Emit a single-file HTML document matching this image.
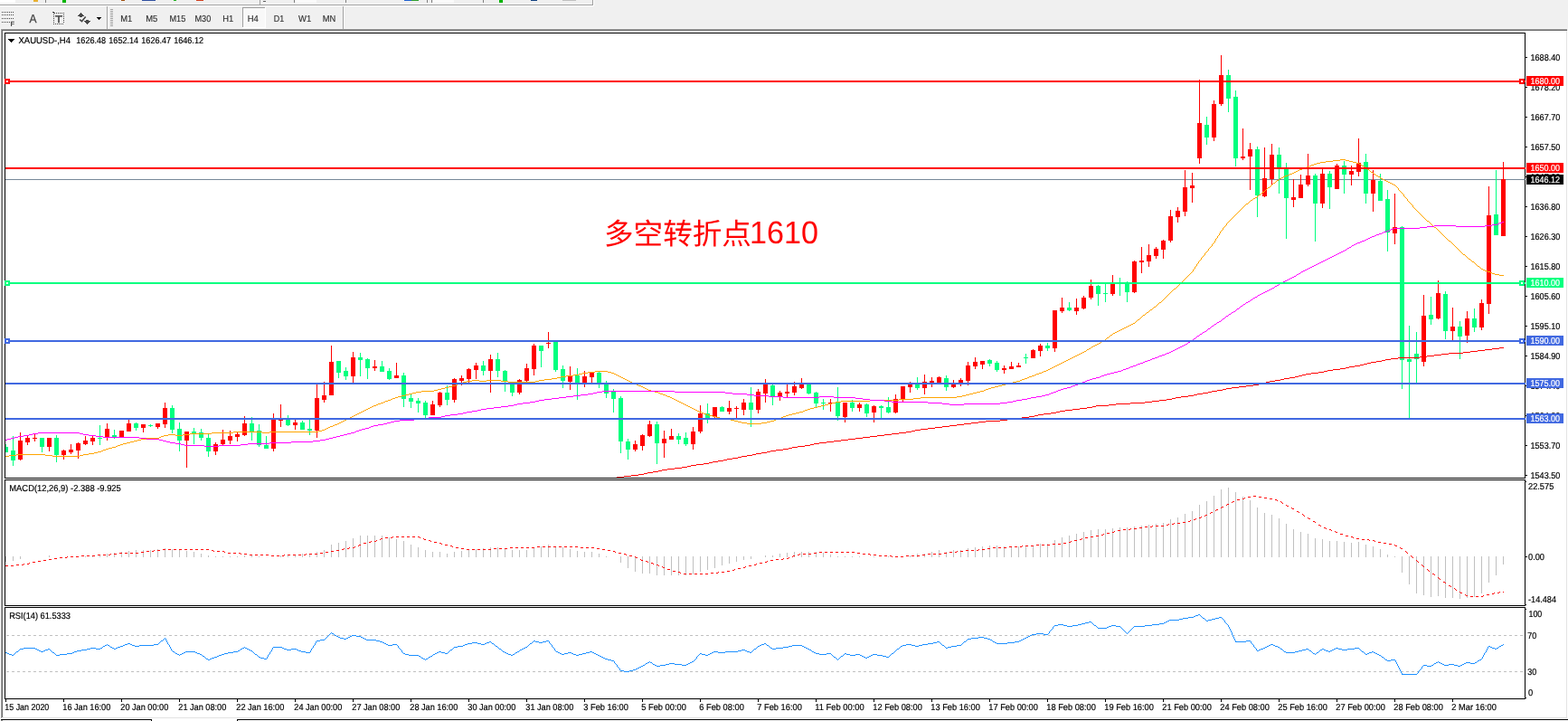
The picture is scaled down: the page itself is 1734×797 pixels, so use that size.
<!DOCTYPE html>
<html lang="zh-CN">
<head>
<meta charset="utf-8">
<title>XAUUSD-,H4</title>
<style>
html,body{margin:0;padding:0;background:#fff;overflow:hidden}
body{width:1734px;height:797px}
svg{display:block;font-family:"Liberation Sans","Noto Sans CJK SC",sans-serif}
svg rect,svg polyline,svg line,svg path{shape-rendering:crispEdges}
svg text{text-rendering:geometricPrecision}
</style>
</head>
<body>
<svg width="1734" height="797" viewBox="0 0 1734 797">
<rect x="0" y="0" width="1734" height="797" fill="#fff"/>
<rect x="0" y="0" width="1734" height="34" fill="#F0F0F0"/>
<rect x="0" y="5" width="656" height="1" fill="#A0A0A0"/>
<rect x="0" y="6" width="656" height="1" fill="#FFFFFF"/>
<rect x="655" y="0" width="1" height="6" fill="#A0A0A0"/>
<rect x="656" y="0" width="1" height="7" fill="#FFFFFF"/>
<rect x="0" y="4" width="655" height="1" fill="#F6F6F6"/>
<rect x="0" y="31" width="1734" height="1" fill="#F6F6F6"/>
<rect x="268" y="8" width="26" height="23" fill="#F8F8F8"/>
<rect x="268" y="8" width="26" height="1" fill="#A0A0A0"/>
<rect x="268" y="8" width="1" height="23" fill="#A0A0A0"/>
<rect x="293" y="8" width="1" height="23" fill="#FFFFFF"/>
<rect x="268" y="30" width="26" height="1" fill="#FFFFFF"/>
<text x="133.3" y="24" font-size="10.2" fill="#303030" stroke="#303030" stroke-width="0.15" textLength="13" lengthAdjust="spacingAndGlyphs">M1</text>
<text x="161.3" y="24" font-size="10.2" fill="#303030" stroke="#303030" stroke-width="0.15" textLength="13" lengthAdjust="spacingAndGlyphs">M5</text>
<text x="187.5" y="24" font-size="10.2" fill="#303030" stroke="#303030" stroke-width="0.15" textLength="17.8" lengthAdjust="spacingAndGlyphs">M15</text>
<text x="215.5" y="24" font-size="10.2" fill="#303030" stroke="#303030" stroke-width="0.15" textLength="17.8" lengthAdjust="spacingAndGlyphs">M30</text>
<text x="246.3" y="24" font-size="10.2" fill="#303030" stroke="#303030" stroke-width="0.15" textLength="12" lengthAdjust="spacingAndGlyphs">H1</text>
<text x="273.7" y="24" font-size="10.2" fill="#303030" stroke="#303030" stroke-width="0.15" textLength="12.1" lengthAdjust="spacingAndGlyphs">H4</text>
<text x="302.8" y="24" font-size="10.2" fill="#303030" stroke="#303030" stroke-width="0.15" textLength="11.4" lengthAdjust="spacingAndGlyphs">D1</text>
<text x="330" y="24" font-size="10.2" fill="#303030" stroke="#303030" stroke-width="0.15" textLength="14.2" lengthAdjust="spacingAndGlyphs">W1</text>
<text x="356.7" y="24" font-size="10.2" fill="#303030" stroke="#303030" stroke-width="0.15" textLength="14.5" lengthAdjust="spacingAndGlyphs">MN</text>
<rect x="118" y="7" width="1" height="25" fill="#A0A0A0"/>
<rect x="119" y="7" width="1" height="25" fill="#FFFFFF"/>
<rect x="379" y="7" width="1" height="25" fill="#A0A0A0"/>
<rect x="380" y="7" width="1" height="25" fill="#FFFFFF"/>
<rect x="122" y="10" width="3" height="1" fill="#A0A0A0"/>
<rect x="122" y="12" width="3" height="1" fill="#A0A0A0"/>
<rect x="122" y="14" width="3" height="1" fill="#A0A0A0"/>
<rect x="122" y="16" width="3" height="1" fill="#A0A0A0"/>
<rect x="122" y="18" width="3" height="1" fill="#A0A0A0"/>
<rect x="122" y="20" width="3" height="1" fill="#A0A0A0"/>
<rect x="122" y="22" width="3" height="1" fill="#A0A0A0"/>
<rect x="122" y="24" width="3" height="1" fill="#A0A0A0"/>
<rect x="122" y="26" width="3" height="1" fill="#A0A0A0"/>
<rect x="122" y="28" width="3" height="1" fill="#A0A0A0"/>
<rect x="2" y="13" width="1" height="1" fill="#484848"/>
<rect x="4" y="13" width="1" height="1" fill="#484848"/>
<rect x="6" y="13" width="1" height="1" fill="#484848"/>
<rect x="8" y="13" width="1" height="1" fill="#484848"/>
<rect x="10" y="13" width="1" height="1" fill="#484848"/>
<rect x="12" y="13" width="1" height="1" fill="#484848"/>
<rect x="14" y="13" width="1" height="1" fill="#484848"/>
<rect x="2" y="16" width="1" height="1" fill="#484848"/>
<rect x="4" y="16" width="1" height="1" fill="#484848"/>
<rect x="6" y="16" width="1" height="1" fill="#484848"/>
<rect x="8" y="16" width="1" height="1" fill="#484848"/>
<rect x="10" y="16" width="1" height="1" fill="#484848"/>
<rect x="12" y="16" width="1" height="1" fill="#484848"/>
<rect x="14" y="16" width="1" height="1" fill="#484848"/>
<rect x="2" y="20" width="1" height="1" fill="#484848"/>
<rect x="4" y="20" width="1" height="1" fill="#484848"/>
<rect x="6" y="20" width="1" height="1" fill="#484848"/>
<rect x="8" y="20" width="1" height="1" fill="#484848"/>
<rect x="10" y="20" width="1" height="1" fill="#484848"/>
<rect x="12" y="20" width="1" height="1" fill="#484848"/>
<rect x="14" y="20" width="1" height="1" fill="#484848"/>
<rect x="2" y="24" width="1" height="1" fill="#484848"/>
<rect x="4" y="24" width="1" height="1" fill="#484848"/>
<rect x="6" y="24" width="1" height="1" fill="#484848"/>
<rect x="8" y="24" width="1" height="1" fill="#484848"/>
<rect x="10" y="24" width="1" height="1" fill="#484848"/>
<text x="11.5" y="29" font-size="7.5" fill="#484848" font-weight="bold">F</text>
<text x="32.5" y="25" font-size="13" fill="#484848" stroke="#484848" stroke-width="0.3" textLength="8" lengthAdjust="spacingAndGlyphs">A</text>
<rect x="58" y="13" width="2" height="1" fill="#484848"/>
<rect x="59" y="14" width="2" height="1" fill="#484848"/>
<rect x="62" y="14" width="1" height="1" fill="#484848"/>
<rect x="64" y="14" width="1" height="1" fill="#484848"/>
<rect x="66" y="14" width="1" height="1" fill="#484848"/>
<rect x="68" y="14" width="1" height="1" fill="#484848"/>
<rect x="70" y="14" width="1" height="1" fill="#484848"/>
<rect x="59" y="26" width="1" height="1" fill="#484848"/>
<rect x="61" y="26" width="1" height="1" fill="#484848"/>
<rect x="63" y="26" width="1" height="1" fill="#484848"/>
<rect x="65" y="26" width="1" height="1" fill="#484848"/>
<rect x="67" y="26" width="1" height="1" fill="#484848"/>
<rect x="69" y="26" width="1" height="1" fill="#484848"/>
<rect x="59" y="16" width="1" height="1" fill="#484848"/>
<rect x="59" y="18" width="1" height="1" fill="#484848"/>
<rect x="59" y="20" width="1" height="1" fill="#484848"/>
<rect x="59" y="22" width="1" height="1" fill="#484848"/>
<rect x="59" y="24" width="1" height="1" fill="#484848"/>
<rect x="59" y="26" width="1" height="1" fill="#484848"/>
<rect x="70" y="14" width="1" height="1" fill="#484848"/>
<rect x="70" y="16" width="1" height="1" fill="#484848"/>
<rect x="70" y="18" width="1" height="1" fill="#484848"/>
<rect x="70" y="20" width="1" height="1" fill="#484848"/>
<rect x="70" y="22" width="1" height="1" fill="#484848"/>
<rect x="70" y="24" width="1" height="1" fill="#484848"/>
<text x="61" y="25" font-size="11.2" fill="#484848" stroke="#484848" stroke-width="0.5" textLength="8" lengthAdjust="spacingAndGlyphs">T</text>
<rect x="89" y="14" width="1" height="1" fill="#484848"/>
<rect x="88" y="15" width="3" height="1" fill="#484848"/>
<rect x="87" y="16" width="5" height="1" fill="#484848"/>
<rect x="86" y="17" width="7" height="1" fill="#484848"/>
<rect x="88" y="18" width="3" height="1" fill="#484848"/>
<rect x="95" y="22" width="3" height="1" fill="#484848"/>
<rect x="93" y="23" width="7" height="1" fill="#484848"/>
<rect x="94" y="24" width="5" height="1" fill="#484848"/>
<rect x="95" y="25" width="3" height="1" fill="#484848"/>
<rect x="96" y="26" width="1" height="1" fill="#484848"/>
<path d="M88.2 21.6l2.3 2 4.2-5.2" fill="none" stroke="#484848" stroke-width="1.6" style="shape-rendering:auto"/>
<rect x="107" y="19" width="5" height="1" fill="#000"/>
<rect x="108" y="20" width="3" height="1" fill="#000"/>
<rect x="109" y="21" width="1" height="1" fill="#000"/>
<rect x="0" y="0" width="17" height="3" fill="#FFFFFF"/>
<rect x="37" y="0" width="5" height="2" fill="#E8B030"/>
<rect x="50" y="0" width="1" height="3" fill="#808080"/>
<rect x="69" y="0" width="4" height="3" fill="#00B400"/>
<rect x="134" y="0" width="4" height="1" fill="#A05010"/>
<rect x="157" y="0" width="15" height="1" fill="#3050A0"/>
<rect x="192" y="0" width="3" height="1" fill="#20B020"/>
<rect x="217" y="0" width="8" height="1" fill="#D04020"/>
<rect x="287" y="0" width="1" height="5" fill="#A0A0A0"/>
<rect x="291" y="1" width="3" height="1" fill="#606060"/>
<rect x="325" y="0" width="1" height="3" fill="#808080"/>
<rect x="327" y="0" width="23" height="3" fill="#FAFAFA"/>
<rect x="382" y="0" width="1" height="3" fill="#808080"/>
<rect x="447" y="0" width="8" height="1" fill="#2060D0"/>
<rect x="455" y="0" width="8" height="1" fill="#30A030"/>
<rect x="472" y="0" width="1" height="3" fill="#808080"/>
<rect x="477" y="0" width="1" height="3" fill="#808080"/>
<rect x="479" y="0" width="23" height="3" fill="#FAFAFA"/>
<rect x="534" y="0" width="1" height="3" fill="#808080"/>
<rect x="552" y="0" width="4" height="3" fill="#00B400"/>
<rect x="587" y="0" width="7" height="1" fill="#104080"/>
<rect x="622" y="0" width="15" height="1" fill="#C0C0C0"/>
<rect x="0" y="32" width="1733" height="1" fill="#A0A0A0"/>
<rect x="0" y="33" width="1733" height="1" fill="#696969"/>
<rect x="0" y="32" width="1" height="765" fill="#FAFAFA"/>
<rect x="1" y="32" width="1" height="762" fill="#A0A0A0"/>
<rect x="2" y="33" width="1" height="760" fill="#696969"/>
<rect x="1" y="796" width="2" height="1" fill="#909090"/>
<rect x="1732" y="34" width="1" height="760" fill="#E3E3E3"/>
<rect x="3" y="793" width="1730" height="1" fill="#E3E3E3"/>
<rect x="1" y="795" width="167" height="1" fill="#000"/>
<rect x="167" y="795" width="1" height="2" fill="#000"/>
<rect x="262" y="795" width="1472" height="1" fill="#000"/>
<rect x="262" y="795" width="1" height="2" fill="#000"/>
<rect x="6" y="198" width="1680" height="1" fill="#778899"/>
<g id="candles">
<rect x="6" y="491" width="1" height="9" fill="#00FF7F"/>
<rect x="6" y="494" width="3" height="6" fill="#00FF7F"/>
<rect x="14" y="482" width="1" height="33" fill="#00FF7F"/>
<rect x="12" y="498" width="5" height="11" fill="#00FF7F"/>
<rect x="22" y="478" width="1" height="31" fill="#FF0000"/>
<rect x="20" y="487" width="5" height="21" fill="#FF0000"/>
<rect x="30" y="481" width="1" height="11" fill="#FF0000"/>
<rect x="28" y="484" width="5" height="5" fill="#FF0000"/>
<rect x="38" y="479" width="1" height="9" fill="#FF0000"/>
<rect x="36" y="484" width="5" height="1" fill="#FF0000"/>
<rect x="46" y="484" width="1" height="16" fill="#00FF7F"/>
<rect x="44" y="484" width="5" height="10" fill="#00FF7F"/>
<rect x="54" y="484" width="1" height="15" fill="#FF0000"/>
<rect x="52" y="484" width="5" height="10" fill="#FF0000"/>
<rect x="62" y="481" width="1" height="30" fill="#00FF7F"/>
<rect x="60" y="484" width="5" height="19" fill="#00FF7F"/>
<rect x="70" y="497" width="1" height="11" fill="#FF0000"/>
<rect x="68" y="498" width="5" height="5" fill="#FF0000"/>
<rect x="78" y="491" width="1" height="11" fill="#FF0000"/>
<rect x="76" y="497" width="5" height="3" fill="#FF0000"/>
<rect x="86" y="489" width="1" height="18" fill="#FF0000"/>
<rect x="84" y="490" width="5" height="8" fill="#FF0000"/>
<rect x="94" y="482" width="1" height="10" fill="#FF0000"/>
<rect x="92" y="487" width="5" height="4" fill="#FF0000"/>
<rect x="102" y="482" width="1" height="10" fill="#FF0000"/>
<rect x="100" y="484" width="5" height="4" fill="#FF0000"/>
<rect x="110" y="470" width="1" height="22" fill="#00FF7F"/>
<rect x="108" y="484" width="5" height="1" fill="#00FF7F"/>
<rect x="118" y="468" width="1" height="19" fill="#FF0000"/>
<rect x="116" y="474" width="5" height="10" fill="#FF0000"/>
<rect x="126" y="475" width="1" height="10" fill="#00FF7F"/>
<rect x="124" y="481" width="5" height="2" fill="#00FF7F"/>
<rect x="134" y="476" width="1" height="7" fill="#FF0000"/>
<rect x="132" y="476" width="5" height="7" fill="#FF0000"/>
<rect x="142" y="464" width="1" height="13" fill="#FF0000"/>
<rect x="140" y="468" width="5" height="9" fill="#FF0000"/>
<rect x="150" y="467" width="1" height="9" fill="#00FF7F"/>
<rect x="148" y="468" width="5" height="5" fill="#00FF7F"/>
<rect x="158" y="469" width="1" height="9" fill="#FF0000"/>
<rect x="156" y="469" width="5" height="4" fill="#FF0000"/>
<rect x="166" y="469" width="1" height="3" fill="#00FF7F"/>
<rect x="164" y="470" width="5" height="1" fill="#00FF7F"/>
<rect x="174" y="468" width="1" height="6" fill="#FF0000"/>
<rect x="172" y="468" width="5" height="4" fill="#FF0000"/>
<rect x="182" y="445" width="1" height="28" fill="#FF0000"/>
<rect x="180" y="451" width="5" height="18" fill="#FF0000"/>
<rect x="190" y="448" width="1" height="31" fill="#00FF7F"/>
<rect x="188" y="451" width="5" height="24" fill="#00FF7F"/>
<rect x="198" y="467" width="1" height="32" fill="#00FF7F"/>
<rect x="196" y="474" width="5" height="13" fill="#00FF7F"/>
<rect x="206" y="477" width="1" height="40" fill="#FF0000"/>
<rect x="204" y="477" width="5" height="10" fill="#FF0000"/>
<rect x="214" y="473" width="1" height="18" fill="#00FF7F"/>
<rect x="212" y="477" width="5" height="2" fill="#00FF7F"/>
<rect x="222" y="474" width="1" height="13" fill="#00FF7F"/>
<rect x="220" y="478" width="5" height="6" fill="#00FF7F"/>
<rect x="230" y="480" width="1" height="25" fill="#00FF7F"/>
<rect x="228" y="484" width="5" height="15" fill="#00FF7F"/>
<rect x="238" y="489" width="1" height="14" fill="#FF0000"/>
<rect x="236" y="491" width="5" height="8" fill="#FF0000"/>
<rect x="246" y="475" width="1" height="17" fill="#FF0000"/>
<rect x="244" y="486" width="5" height="5" fill="#FF0000"/>
<rect x="254" y="476" width="1" height="15" fill="#FF0000"/>
<rect x="252" y="482" width="5" height="5" fill="#FF0000"/>
<rect x="262" y="477" width="1" height="11" fill="#FF0000"/>
<rect x="260" y="480" width="5" height="3" fill="#FF0000"/>
<rect x="270" y="460" width="1" height="22" fill="#FF0000"/>
<rect x="268" y="468" width="5" height="13" fill="#FF0000"/>
<rect x="278" y="461" width="1" height="26" fill="#00FF7F"/>
<rect x="276" y="468" width="5" height="9" fill="#00FF7F"/>
<rect x="286" y="469" width="1" height="25" fill="#00FF7F"/>
<rect x="284" y="476" width="5" height="16" fill="#00FF7F"/>
<rect x="294" y="482" width="1" height="14" fill="#00FF7F"/>
<rect x="292" y="492" width="5" height="4" fill="#00FF7F"/>
<rect x="302" y="457" width="1" height="42" fill="#FF0000"/>
<rect x="300" y="464" width="5" height="32" fill="#FF0000"/>
<rect x="310" y="447" width="1" height="25" fill="#FF0000"/>
<rect x="308" y="464" width="5" height="1" fill="#FF0000"/>
<rect x="318" y="459" width="1" height="12" fill="#00FF7F"/>
<rect x="316" y="464" width="5" height="6" fill="#00FF7F"/>
<rect x="326" y="464" width="1" height="11" fill="#FF0000"/>
<rect x="324" y="467" width="5" height="3" fill="#FF0000"/>
<rect x="334" y="465" width="1" height="10" fill="#00FF7F"/>
<rect x="332" y="467" width="5" height="8" fill="#00FF7F"/>
<rect x="342" y="464" width="1" height="17" fill="#00FF7F"/>
<rect x="340" y="474" width="5" height="2" fill="#00FF7F"/>
<rect x="350" y="425" width="1" height="59" fill="#FF0000"/>
<rect x="348" y="440" width="5" height="36" fill="#FF0000"/>
<rect x="358" y="422" width="1" height="23" fill="#FF0000"/>
<rect x="356" y="437" width="5" height="5" fill="#FF0000"/>
<rect x="366" y="382" width="1" height="55" fill="#FF0000"/>
<rect x="364" y="400" width="5" height="37" fill="#FF0000"/>
<rect x="374" y="399" width="1" height="19" fill="#00FF7F"/>
<rect x="372" y="399" width="5" height="13" fill="#00FF7F"/>
<rect x="382" y="406" width="1" height="14" fill="#00FF7F"/>
<rect x="380" y="410" width="5" height="6" fill="#00FF7F"/>
<rect x="390" y="389" width="1" height="34" fill="#FF0000"/>
<rect x="388" y="395" width="5" height="21" fill="#FF0000"/>
<rect x="398" y="390" width="1" height="26" fill="#00FF7F"/>
<rect x="396" y="395" width="5" height="3" fill="#00FF7F"/>
<rect x="406" y="396" width="1" height="23" fill="#00FF7F"/>
<rect x="404" y="397" width="5" height="10" fill="#00FF7F"/>
<rect x="414" y="398" width="1" height="12" fill="#FF0000"/>
<rect x="412" y="405" width="5" height="2" fill="#FF0000"/>
<rect x="422" y="399" width="1" height="12" fill="#00FF7F"/>
<rect x="420" y="405" width="5" height="6" fill="#00FF7F"/>
<rect x="430" y="407" width="1" height="13" fill="#00FF7F"/>
<rect x="428" y="410" width="5" height="9" fill="#00FF7F"/>
<rect x="438" y="401" width="1" height="17" fill="#FF0000"/>
<rect x="436" y="415" width="5" height="3" fill="#FF0000"/>
<rect x="446" y="412" width="1" height="38" fill="#00FF7F"/>
<rect x="444" y="415" width="5" height="26" fill="#00FF7F"/>
<rect x="454" y="436" width="1" height="15" fill="#00FF7F"/>
<rect x="452" y="440" width="5" height="4" fill="#00FF7F"/>
<rect x="462" y="440" width="1" height="16" fill="#00FF7F"/>
<rect x="460" y="443" width="5" height="3" fill="#00FF7F"/>
<rect x="470" y="443" width="1" height="19" fill="#00FF7F"/>
<rect x="468" y="445" width="5" height="14" fill="#00FF7F"/>
<rect x="478" y="443" width="1" height="16" fill="#FF0000"/>
<rect x="476" y="447" width="5" height="12" fill="#FF0000"/>
<rect x="486" y="433" width="1" height="17" fill="#FF0000"/>
<rect x="484" y="434" width="5" height="14" fill="#FF0000"/>
<rect x="494" y="426" width="1" height="22" fill="#00FF7F"/>
<rect x="492" y="434" width="5" height="8" fill="#00FF7F"/>
<rect x="502" y="418" width="1" height="27" fill="#FF0000"/>
<rect x="500" y="419" width="5" height="23" fill="#FF0000"/>
<rect x="510" y="415" width="1" height="11" fill="#FF0000"/>
<rect x="508" y="418" width="5" height="3" fill="#FF0000"/>
<rect x="518" y="407" width="1" height="16" fill="#FF0000"/>
<rect x="516" y="408" width="5" height="11" fill="#FF0000"/>
<rect x="526" y="401" width="1" height="18" fill="#FF0000"/>
<rect x="524" y="404" width="5" height="5" fill="#FF0000"/>
<rect x="534" y="399" width="1" height="16" fill="#00FF7F"/>
<rect x="532" y="404" width="5" height="6" fill="#00FF7F"/>
<rect x="542" y="392" width="1" height="42" fill="#FF0000"/>
<rect x="540" y="397" width="5" height="13" fill="#FF0000"/>
<rect x="550" y="390" width="1" height="27" fill="#00FF7F"/>
<rect x="548" y="397" width="5" height="13" fill="#00FF7F"/>
<rect x="558" y="409" width="1" height="24" fill="#00FF7F"/>
<rect x="556" y="410" width="5" height="12" fill="#00FF7F"/>
<rect x="566" y="424" width="1" height="14" fill="#00FF7F"/>
<rect x="564" y="425" width="5" height="9" fill="#00FF7F"/>
<rect x="574" y="419" width="1" height="17" fill="#FF0000"/>
<rect x="572" y="420" width="5" height="14" fill="#FF0000"/>
<rect x="582" y="402" width="1" height="20" fill="#FF0000"/>
<rect x="580" y="407" width="5" height="14" fill="#FF0000"/>
<rect x="590" y="380" width="1" height="35" fill="#FF0000"/>
<rect x="588" y="382" width="5" height="26" fill="#FF0000"/>
<rect x="598" y="382" width="1" height="24" fill="#00FF7F"/>
<rect x="596" y="382" width="5" height="6" fill="#00FF7F"/>
<rect x="606" y="367" width="1" height="18" fill="#FF0000"/>
<rect x="604" y="379" width="5" height="1" fill="#FF0000"/>
<rect x="614" y="378" width="1" height="33" fill="#00FF7F"/>
<rect x="612" y="378" width="5" height="31" fill="#00FF7F"/>
<rect x="622" y="404" width="1" height="25" fill="#00FF7F"/>
<rect x="620" y="408" width="5" height="13" fill="#00FF7F"/>
<rect x="630" y="405" width="1" height="26" fill="#FF0000"/>
<rect x="628" y="416" width="5" height="6" fill="#FF0000"/>
<rect x="638" y="407" width="1" height="35" fill="#00FF7F"/>
<rect x="636" y="415" width="5" height="8" fill="#00FF7F"/>
<rect x="646" y="410" width="1" height="18" fill="#FF0000"/>
<rect x="644" y="416" width="5" height="7" fill="#FF0000"/>
<rect x="654" y="411" width="1" height="12" fill="#FF0000"/>
<rect x="652" y="412" width="5" height="5" fill="#FF0000"/>
<rect x="662" y="411" width="1" height="18" fill="#00FF7F"/>
<rect x="660" y="412" width="5" height="11" fill="#00FF7F"/>
<rect x="670" y="421" width="1" height="19" fill="#00FF7F"/>
<rect x="668" y="425" width="5" height="10" fill="#00FF7F"/>
<rect x="678" y="430" width="1" height="26" fill="#00FF7F"/>
<rect x="676" y="433" width="5" height="8" fill="#00FF7F"/>
<rect x="686" y="438" width="1" height="63" fill="#00FF7F"/>
<rect x="684" y="440" width="5" height="48" fill="#00FF7F"/>
<rect x="694" y="485" width="1" height="23" fill="#00FF7F"/>
<rect x="692" y="488" width="5" height="9" fill="#00FF7F"/>
<rect x="702" y="487" width="1" height="12" fill="#FF0000"/>
<rect x="700" y="491" width="5" height="6" fill="#FF0000"/>
<rect x="710" y="480" width="1" height="18" fill="#FF0000"/>
<rect x="708" y="481" width="5" height="12" fill="#FF0000"/>
<rect x="718" y="465" width="1" height="18" fill="#FF0000"/>
<rect x="716" y="469" width="5" height="13" fill="#FF0000"/>
<rect x="726" y="466" width="1" height="47" fill="#00FF7F"/>
<rect x="724" y="469" width="5" height="21" fill="#00FF7F"/>
<rect x="734" y="476" width="1" height="30" fill="#FF0000"/>
<rect x="732" y="485" width="5" height="5" fill="#FF0000"/>
<rect x="742" y="474" width="1" height="12" fill="#FF0000"/>
<rect x="740" y="482" width="5" height="4" fill="#FF0000"/>
<rect x="750" y="479" width="1" height="12" fill="#00FF7F"/>
<rect x="748" y="482" width="5" height="4" fill="#00FF7F"/>
<rect x="758" y="478" width="1" height="15" fill="#00FF7F"/>
<rect x="756" y="484" width="5" height="7" fill="#00FF7F"/>
<rect x="766" y="472" width="1" height="25" fill="#FF0000"/>
<rect x="764" y="477" width="5" height="14" fill="#FF0000"/>
<rect x="774" y="448" width="1" height="31" fill="#FF0000"/>
<rect x="772" y="457" width="5" height="20" fill="#FF0000"/>
<rect x="782" y="446" width="1" height="22" fill="#00FF7F"/>
<rect x="780" y="457" width="5" height="5" fill="#00FF7F"/>
<rect x="790" y="450" width="1" height="12" fill="#FF0000"/>
<rect x="788" y="450" width="5" height="11" fill="#FF0000"/>
<rect x="798" y="449" width="1" height="6" fill="#00FF7F"/>
<rect x="796" y="450" width="5" height="5" fill="#00FF7F"/>
<rect x="806" y="443" width="1" height="15" fill="#FF0000"/>
<rect x="804" y="451" width="5" height="4" fill="#FF0000"/>
<rect x="814" y="449" width="1" height="13" fill="#FF0000"/>
<rect x="812" y="451" width="5" height="1" fill="#FF0000"/>
<rect x="822" y="441" width="1" height="18" fill="#FF0000"/>
<rect x="820" y="445" width="5" height="8" fill="#FF0000"/>
<rect x="830" y="428" width="1" height="44" fill="#00FF7F"/>
<rect x="828" y="445" width="5" height="8" fill="#00FF7F"/>
<rect x="838" y="430" width="1" height="27" fill="#FF0000"/>
<rect x="836" y="433" width="5" height="20" fill="#FF0000"/>
<rect x="846" y="419" width="1" height="26" fill="#FF0000"/>
<rect x="844" y="425" width="5" height="10" fill="#FF0000"/>
<rect x="854" y="425" width="1" height="23" fill="#00FF7F"/>
<rect x="852" y="426" width="5" height="12" fill="#00FF7F"/>
<rect x="862" y="432" width="1" height="11" fill="#FF0000"/>
<rect x="860" y="434" width="5" height="4" fill="#FF0000"/>
<rect x="870" y="425" width="1" height="14" fill="#FF0000"/>
<rect x="868" y="433" width="5" height="2" fill="#FF0000"/>
<rect x="878" y="422" width="1" height="15" fill="#FF0000"/>
<rect x="876" y="427" width="5" height="7" fill="#FF0000"/>
<rect x="886" y="418" width="1" height="12" fill="#FF0000"/>
<rect x="884" y="425" width="5" height="4" fill="#FF0000"/>
<rect x="894" y="425" width="1" height="11" fill="#00FF7F"/>
<rect x="892" y="425" width="5" height="10" fill="#00FF7F"/>
<rect x="902" y="433" width="1" height="17" fill="#00FF7F"/>
<rect x="900" y="434" width="5" height="12" fill="#00FF7F"/>
<rect x="910" y="441" width="1" height="12" fill="#00FF7F"/>
<rect x="908" y="445" width="5" height="1" fill="#00FF7F"/>
<rect x="918" y="441" width="1" height="14" fill="#FF0000"/>
<rect x="916" y="445" width="5" height="1" fill="#FF0000"/>
<rect x="926" y="428" width="1" height="37" fill="#00FF7F"/>
<rect x="924" y="445" width="5" height="15" fill="#00FF7F"/>
<rect x="934" y="445" width="1" height="22" fill="#FF0000"/>
<rect x="932" y="445" width="5" height="16" fill="#FF0000"/>
<rect x="942" y="442" width="1" height="13" fill="#00FF7F"/>
<rect x="940" y="445" width="5" height="6" fill="#00FF7F"/>
<rect x="950" y="445" width="1" height="10" fill="#FF0000"/>
<rect x="948" y="447" width="5" height="4" fill="#FF0000"/>
<rect x="958" y="446" width="1" height="15" fill="#00FF7F"/>
<rect x="956" y="447" width="5" height="10" fill="#00FF7F"/>
<rect x="966" y="448" width="1" height="19" fill="#FF0000"/>
<rect x="964" y="449" width="5" height="7" fill="#FF0000"/>
<rect x="974" y="448" width="1" height="14" fill="#00FF7F"/>
<rect x="972" y="449" width="5" height="2" fill="#00FF7F"/>
<rect x="982" y="439" width="1" height="18" fill="#00FF7F"/>
<rect x="980" y="450" width="5" height="6" fill="#00FF7F"/>
<rect x="990" y="436" width="1" height="21" fill="#FF0000"/>
<rect x="988" y="441" width="5" height="15" fill="#FF0000"/>
<rect x="998" y="427" width="1" height="17" fill="#FF0000"/>
<rect x="996" y="427" width="5" height="14" fill="#FF0000"/>
<rect x="1006" y="422" width="1" height="12" fill="#FF0000"/>
<rect x="1004" y="425" width="5" height="3" fill="#FF0000"/>
<rect x="1014" y="417" width="1" height="14" fill="#00FF7F"/>
<rect x="1012" y="425" width="5" height="4" fill="#00FF7F"/>
<rect x="1022" y="414" width="1" height="22" fill="#FF0000"/>
<rect x="1020" y="422" width="5" height="7" fill="#FF0000"/>
<rect x="1030" y="417" width="1" height="11" fill="#FF0000"/>
<rect x="1028" y="421" width="5" height="2" fill="#FF0000"/>
<rect x="1038" y="416" width="1" height="7" fill="#FF0000"/>
<rect x="1036" y="417" width="5" height="6" fill="#FF0000"/>
<rect x="1046" y="415" width="1" height="17" fill="#00FF7F"/>
<rect x="1044" y="418" width="5" height="10" fill="#00FF7F"/>
<rect x="1054" y="420" width="1" height="9" fill="#FF0000"/>
<rect x="1052" y="425" width="5" height="3" fill="#FF0000"/>
<rect x="1062" y="418" width="1" height="9" fill="#FF0000"/>
<rect x="1060" y="420" width="5" height="3" fill="#FF0000"/>
<rect x="1070" y="400" width="1" height="26" fill="#FF0000"/>
<rect x="1068" y="404" width="5" height="17" fill="#FF0000"/>
<rect x="1078" y="395" width="1" height="13" fill="#FF0000"/>
<rect x="1076" y="400" width="5" height="5" fill="#FF0000"/>
<rect x="1086" y="399" width="1" height="9" fill="#FF0000"/>
<rect x="1084" y="399" width="5" height="4" fill="#FF0000"/>
<rect x="1094" y="397" width="1" height="8" fill="#00FF7F"/>
<rect x="1092" y="398" width="5" height="4" fill="#00FF7F"/>
<rect x="1102" y="399" width="1" height="12" fill="#00FF7F"/>
<rect x="1100" y="401" width="5" height="8" fill="#00FF7F"/>
<rect x="1110" y="404" width="1" height="9" fill="#FF0000"/>
<rect x="1108" y="407" width="5" height="2" fill="#FF0000"/>
<rect x="1118" y="400" width="1" height="8" fill="#FF0000"/>
<rect x="1116" y="405" width="5" height="3" fill="#FF0000"/>
<rect x="1126" y="401" width="1" height="5" fill="#FF0000"/>
<rect x="1124" y="404" width="5" height="2" fill="#FF0000"/>
<rect x="1134" y="391" width="1" height="11" fill="#00FF7F"/>
<rect x="1132" y="395" width="5" height="1" fill="#00FF7F"/>
<rect x="1142" y="386" width="1" height="10" fill="#FF0000"/>
<rect x="1140" y="387" width="5" height="9" fill="#FF0000"/>
<rect x="1150" y="380" width="1" height="14" fill="#FF0000"/>
<rect x="1148" y="382" width="5" height="6" fill="#FF0000"/>
<rect x="1158" y="379" width="1" height="9" fill="#00FF7F"/>
<rect x="1156" y="382" width="5" height="3" fill="#00FF7F"/>
<rect x="1166" y="343" width="1" height="46" fill="#FF0000"/>
<rect x="1164" y="343" width="5" height="42" fill="#FF0000"/>
<rect x="1174" y="329" width="1" height="17" fill="#FF0000"/>
<rect x="1172" y="340" width="5" height="4" fill="#FF0000"/>
<rect x="1182" y="334" width="1" height="10" fill="#00FF7F"/>
<rect x="1180" y="340" width="5" height="3" fill="#00FF7F"/>
<rect x="1190" y="330" width="1" height="18" fill="#FF0000"/>
<rect x="1188" y="340" width="5" height="4" fill="#FF0000"/>
<rect x="1198" y="327" width="1" height="15" fill="#FF0000"/>
<rect x="1196" y="329" width="5" height="12" fill="#FF0000"/>
<rect x="1206" y="309" width="1" height="22" fill="#FF0000"/>
<rect x="1204" y="316" width="5" height="13" fill="#FF0000"/>
<rect x="1214" y="315" width="1" height="23" fill="#00FF7F"/>
<rect x="1212" y="316" width="5" height="9" fill="#00FF7F"/>
<rect x="1222" y="313" width="1" height="21" fill="#00FF7F"/>
<rect x="1220" y="324" width="5" height="1" fill="#00FF7F"/>
<rect x="1230" y="304" width="1" height="23" fill="#FF0000"/>
<rect x="1228" y="314" width="5" height="11" fill="#FF0000"/>
<rect x="1238" y="307" width="1" height="20" fill="#00FF7F"/>
<rect x="1236" y="312" width="5" height="1" fill="#00FF7F"/>
<rect x="1246" y="311" width="1" height="23" fill="#00FF7F"/>
<rect x="1244" y="314" width="5" height="9" fill="#00FF7F"/>
<rect x="1254" y="288" width="1" height="36" fill="#FF0000"/>
<rect x="1252" y="289" width="5" height="34" fill="#FF0000"/>
<rect x="1262" y="273" width="1" height="29" fill="#FF0000"/>
<rect x="1260" y="288" width="5" height="2" fill="#FF0000"/>
<rect x="1270" y="270" width="1" height="25" fill="#FF0000"/>
<rect x="1268" y="282" width="5" height="7" fill="#FF0000"/>
<rect x="1278" y="273" width="1" height="13" fill="#FF0000"/>
<rect x="1276" y="275" width="5" height="8" fill="#FF0000"/>
<rect x="1286" y="265" width="1" height="21" fill="#FF0000"/>
<rect x="1284" y="266" width="5" height="10" fill="#FF0000"/>
<rect x="1294" y="232" width="1" height="36" fill="#FF0000"/>
<rect x="1292" y="239" width="5" height="27" fill="#FF0000"/>
<rect x="1302" y="229" width="1" height="17" fill="#FF0000"/>
<rect x="1300" y="233" width="5" height="7" fill="#FF0000"/>
<rect x="1310" y="188" width="1" height="51" fill="#FF0000"/>
<rect x="1308" y="207" width="5" height="27" fill="#FF0000"/>
<rect x="1318" y="191" width="1" height="33" fill="#FF0000"/>
<rect x="1316" y="205" width="5" height="3" fill="#FF0000"/>
<rect x="1326" y="88" width="1" height="93" fill="#FF0000"/>
<rect x="1324" y="136" width="5" height="39" fill="#FF0000"/>
<rect x="1334" y="129" width="1" height="31" fill="#00FF7F"/>
<rect x="1332" y="138" width="5" height="14" fill="#00FF7F"/>
<rect x="1342" y="111" width="1" height="45" fill="#FF0000"/>
<rect x="1340" y="115" width="5" height="37" fill="#FF0000"/>
<rect x="1350" y="61" width="1" height="56" fill="#FF0000"/>
<rect x="1348" y="83" width="5" height="32" fill="#FF0000"/>
<rect x="1358" y="77" width="1" height="47" fill="#00FF7F"/>
<rect x="1356" y="83" width="5" height="26" fill="#00FF7F"/>
<rect x="1366" y="100" width="1" height="84" fill="#00FF7F"/>
<rect x="1364" y="107" width="5" height="68" fill="#00FF7F"/>
<rect x="1374" y="142" width="1" height="35" fill="#FF0000"/>
<rect x="1372" y="173" width="5" height="2" fill="#FF0000"/>
<rect x="1382" y="158" width="1" height="52" fill="#FF0000"/>
<rect x="1380" y="165" width="5" height="8" fill="#FF0000"/>
<rect x="1390" y="162" width="1" height="78" fill="#00FF7F"/>
<rect x="1388" y="165" width="5" height="51" fill="#00FF7F"/>
<rect x="1398" y="163" width="1" height="55" fill="#FF0000"/>
<rect x="1396" y="197" width="5" height="20" fill="#FF0000"/>
<rect x="1406" y="159" width="1" height="45" fill="#FF0000"/>
<rect x="1404" y="171" width="5" height="27" fill="#FF0000"/>
<rect x="1414" y="163" width="1" height="51" fill="#00FF7F"/>
<rect x="1412" y="171" width="5" height="15" fill="#00FF7F"/>
<rect x="1422" y="180" width="1" height="84" fill="#00FF7F"/>
<rect x="1420" y="187" width="5" height="32" fill="#00FF7F"/>
<rect x="1430" y="198" width="1" height="31" fill="#FF0000"/>
<rect x="1428" y="218" width="5" height="3" fill="#FF0000"/>
<rect x="1438" y="193" width="1" height="26" fill="#FF0000"/>
<rect x="1436" y="204" width="5" height="15" fill="#FF0000"/>
<rect x="1446" y="170" width="1" height="36" fill="#FF0000"/>
<rect x="1444" y="194" width="5" height="10" fill="#FF0000"/>
<rect x="1454" y="192" width="1" height="75" fill="#00FF7F"/>
<rect x="1452" y="194" width="5" height="31" fill="#00FF7F"/>
<rect x="1462" y="187" width="1" height="43" fill="#FF0000"/>
<rect x="1460" y="192" width="5" height="33" fill="#FF0000"/>
<rect x="1470" y="189" width="1" height="42" fill="#00FF7F"/>
<rect x="1468" y="192" width="5" height="15" fill="#00FF7F"/>
<rect x="1478" y="181" width="1" height="28" fill="#FF0000"/>
<rect x="1476" y="183" width="5" height="26" fill="#FF0000"/>
<rect x="1486" y="178" width="1" height="36" fill="#00FF7F"/>
<rect x="1484" y="183" width="5" height="10" fill="#00FF7F"/>
<rect x="1494" y="183" width="1" height="22" fill="#FF0000"/>
<rect x="1492" y="189" width="5" height="4" fill="#FF0000"/>
<rect x="1502" y="153" width="1" height="42" fill="#FF0000"/>
<rect x="1500" y="180" width="5" height="10" fill="#FF0000"/>
<rect x="1510" y="170" width="1" height="55" fill="#00FF7F"/>
<rect x="1508" y="179" width="5" height="35" fill="#00FF7F"/>
<rect x="1518" y="188" width="1" height="46" fill="#FF0000"/>
<rect x="1516" y="199" width="5" height="15" fill="#FF0000"/>
<rect x="1526" y="192" width="1" height="30" fill="#00FF7F"/>
<rect x="1524" y="200" width="5" height="22" fill="#00FF7F"/>
<rect x="1534" y="210" width="1" height="68" fill="#00FF7F"/>
<rect x="1532" y="220" width="5" height="37" fill="#00FF7F"/>
<rect x="1542" y="214" width="1" height="56" fill="#FF0000"/>
<rect x="1540" y="251" width="5" height="7" fill="#FF0000"/>
<rect x="1550" y="250" width="1" height="180" fill="#00FF7F"/>
<rect x="1548" y="251" width="5" height="147" fill="#00FF7F"/>
<rect x="1558" y="360" width="1" height="102" fill="#00FF7F"/>
<rect x="1556" y="397" width="5" height="3" fill="#00FF7F"/>
<rect x="1566" y="367" width="1" height="56" fill="#00FF7F"/>
<rect x="1564" y="391" width="5" height="6" fill="#00FF7F"/>
<rect x="1574" y="326" width="1" height="79" fill="#FF0000"/>
<rect x="1572" y="349" width="5" height="51" fill="#FF0000"/>
<rect x="1582" y="328" width="1" height="31" fill="#00FF7F"/>
<rect x="1580" y="348" width="5" height="5" fill="#00FF7F"/>
<rect x="1590" y="310" width="1" height="43" fill="#FF0000"/>
<rect x="1588" y="324" width="5" height="28" fill="#FF0000"/>
<rect x="1598" y="322" width="1" height="53" fill="#00FF7F"/>
<rect x="1596" y="325" width="5" height="41" fill="#00FF7F"/>
<rect x="1606" y="340" width="1" height="36" fill="#FF0000"/>
<rect x="1604" y="361" width="5" height="5" fill="#FF0000"/>
<rect x="1614" y="355" width="1" height="42" fill="#00FF7F"/>
<rect x="1612" y="361" width="5" height="11" fill="#00FF7F"/>
<rect x="1622" y="344" width="1" height="35" fill="#FF0000"/>
<rect x="1620" y="352" width="5" height="19" fill="#FF0000"/>
<rect x="1630" y="341" width="1" height="26" fill="#00FF7F"/>
<rect x="1628" y="352" width="5" height="10" fill="#00FF7F"/>
<rect x="1638" y="331" width="1" height="34" fill="#FF0000"/>
<rect x="1636" y="335" width="5" height="27" fill="#FF0000"/>
<rect x="1646" y="206" width="1" height="141" fill="#FF0000"/>
<rect x="1644" y="238" width="5" height="98" fill="#FF0000"/>
<rect x="1654" y="188" width="1" height="72" fill="#00FF7F"/>
<rect x="1652" y="237" width="5" height="23" fill="#00FF7F"/>
<rect x="1662" y="179" width="1" height="82" fill="#FF0000"/>
<rect x="1660" y="198" width="5" height="63" fill="#FF0000"/>
</g>
<path d="M1658 384h5v1h-5zM1650 385h8v1h-8zM1642 386h8v1h-8zM1634 387h8v1h-8zM1626 388h8v1h-8zM1618 389h8v1h-8zM1602 390h16v1h-16zM1594 391h8v1h-8zM1586 392h8v1h-8zM1578 393h8v1h-8zM1570 394h8v1h-8zM1546 395h24v1h-24zM1538 396h8v1h-8zM1532 397h6v1h-6zM1528 398h4v1h-4zM1522 399h6v1h-6zM1516 400h6v1h-6zM1512 401h4v1h-4zM1508 402h4v1h-4zM1504 403h4v1h-4zM1498 404h6v1h-6zM1492 405h6v1h-6zM1488 406h4v1h-4zM1482 407h6v1h-6zM1474 408h8v1h-8zM1468 409h6v1h-6zM1464 410h4v1h-4zM1458 411h6v1h-6zM1450 412h8v1h-8zM1444 413h6v1h-6zM1440 414h4v1h-4zM1436 415h4v1h-4zM1432 416h4v1h-4zM1426 417h6v1h-6zM1420 418h6v1h-6zM1416 419h4v1h-4zM1410 420h6v1h-6zM1404 421h6v1h-6zM1400 422h4v1h-4zM1396 423h4v1h-4zM1392 424h4v1h-4zM1386 425h6v1h-6zM1378 426h8v1h-8zM1370 427h8v1h-8zM1362 428h8v1h-8zM1356 429h6v1h-6zM1352 430h4v1h-4zM1346 431h6v1h-6zM1340 432h6v1h-6zM1336 433h4v1h-4zM1330 434h6v1h-6zM1324 435h6v1h-6zM1320 436h4v1h-4zM1314 437h6v1h-6zM1306 438h8v1h-8zM1300 439h6v1h-6zM1296 440h4v1h-4zM1290 441h6v1h-6zM1282 442h8v1h-8zM1274 443h8v1h-8zM1266 444h8v1h-8zM1250 445h16v1h-16zM1234 446h16v1h-16zM1226 447h8v1h-8zM1212 448h14v1h-14zM1208 449h4v1h-4zM1202 450h6v1h-6zM1194 451h8v1h-8zM1186 452h8v1h-8zM1178 453h8v1h-8zM1172 454h6v1h-6zM1168 455h4v1h-4zM1162 456h6v1h-6zM1154 457h8v1h-8zM1148 458h6v1h-6zM1144 459h4v1h-4zM1138 460h6v1h-6zM1130 461h8v1h-8zM1122 462h8v1h-8zM1114 463h8v1h-8zM1106 464h8v1h-8zM1090 465h16v1h-16zM1082 466h8v1h-8zM1074 467h8v1h-8zM1066 468h8v1h-8zM1058 469h8v1h-8zM1050 470h8v1h-8zM1042 471h8v1h-8zM1034 472h8v1h-8zM1026 473h8v1h-8zM1018 474h8v1h-8zM1012 475h6v1h-6zM1008 476h4v1h-4zM1002 477h6v1h-6zM994 478h8v1h-8zM986 479h8v1h-8zM978 480h8v1h-8zM970 481h8v1h-8zM962 482h8v1h-8zM954 483h8v1h-8zM946 484h8v1h-8zM938 485h8v1h-8zM930 486h8v1h-8zM922 487h8v1h-8zM914 488h8v1h-8zM906 489h8v1h-8zM900 490h6v1h-6zM896 491h4v1h-4zM890 492h6v1h-6zM882 493h8v1h-8zM876 494h6v1h-6zM872 495h4v1h-4zM866 496h6v1h-6zM858 497h8v1h-8zM852 498h6v1h-6zM848 499h4v1h-4zM842 500h6v1h-6zM836 501h6v1h-6zM832 502h4v1h-4zM826 503h6v1h-6zM820 504h6v1h-6zM816 505h4v1h-4zM810 506h6v1h-6zM804 507h6v1h-6zM800 508h4v1h-4zM794 509h6v1h-6zM788 510h6v1h-6zM784 511h4v1h-4zM778 512h6v1h-6zM770 513h8v1h-8zM764 514h6v1h-6zM760 515h4v1h-4zM754 516h6v1h-6zM746 517h8v1h-8zM738 518h8v1h-8zM732 519h6v1h-6zM728 520h4v1h-4zM722 521h6v1h-6zM716 522h6v1h-6zM712 523h4v1h-4zM706 524h6v1h-6zM698 525h8v1h-8zM690 526h8v1h-8zM682 527h8v1h-8z" fill="#FF0000"/>
<path d="M1482 176h6v1h-6zM1474 177h8v1h-8zM1488 177h4v1h-4zM1466 178h8v1h-8zM1492 178h4v1h-4zM1460 179h6v1h-6zM1496 179h4v1h-4zM1456 180h4v1h-4zM1500 180h3v1h-3zM1453 181h3v1h-3zM1503 181h2v1h-2zM1450 182h3v1h-3zM1505 182h1v1h-1zM1448 183h2v1h-2zM1506 183h2v1h-2zM1445 184h3v1h-3zM1508 184h2v1h-2zM1442 185h3v1h-3zM1510 185h1v1h-1zM1440 186h2v1h-2zM1511 186h1v1h-1zM1437 187h3v1h-3zM1512 187h2v1h-2zM1435 188h2v1h-2zM1514 188h1v1h-1zM1433 189h2v1h-2zM1515 189h1v1h-1zM1431 190h2v1h-2zM1516 190h2v1h-2zM1429 191h2v1h-2zM1518 191h1v1h-1zM1426 192h3v1h-3zM1519 192h2v1h-2zM1424 193h2v1h-2zM1521 193h1v1h-1zM1421 194h3v1h-3zM1522 194h2v1h-2zM1419 195h2v1h-2zM1524 195h2v1h-2zM1417 196h2v1h-2zM1526 196h1v1h-1zM1415 197h2v1h-2zM1527 197h2v1h-2zM1414 198h1v1h-1zM1529 198h2v1h-2zM1412 199h2v1h-2zM1531 199h2v1h-2zM1411 200h1v1h-1zM1533 200h2v1h-2zM1410 201h1v1h-1zM1535 201h2v1h-2zM1408 202h2v1h-2zM1537 202h2v1h-2zM1407 203h1v1h-1zM1539 203h2v1h-2zM1406 204h1v1h-1zM1541 204h2v1h-2zM1405 205h1v1h-1zM1543 205h1v1h-1zM1404 206h1v1h-1zM1544 206h1v1h-1zM1402 207h2v1h-2zM1545 207h1v1h-1zM1401 208h1v1h-1zM1546 208h1v2h-1zM1400 209h1v1h-1zM1399 210h1v1h-1zM1547 210h1v1h-1zM1398 211h1v1h-1zM1548 211h1v1h-1zM1396 212h2v1h-2zM1549 212h1v1h-1zM1395 213h1v1h-1zM1550 213h1v1h-1zM1394 214h1v1h-1zM1551 214h1v1h-1zM1392 215h2v1h-2zM1552 215h1v2h-1zM1391 216h1v1h-1zM1390 217h1v1h-1zM1553 217h1v1h-1zM1388 218h2v1h-2zM1554 218h1v1h-1zM1386 219h2v1h-2zM1555 219h1v1h-1zM1385 220h1v1h-1zM1556 220h1v2h-1zM1383 221h2v1h-2zM1382 222h1v1h-1zM1557 222h1v1h-1zM1381 223h1v1h-1zM1558 223h1v1h-1zM1380 224h1v1h-1zM1559 224h1v1h-1zM1378 225h2v1h-2zM1560 225h1v1h-1zM1377 226h1v1h-1zM1561 226h1v1h-1zM1376 227h1v1h-1zM1562 227h1v2h-1zM1375 228h1v1h-1zM1374 229h1v1h-1zM1563 229h1v1h-1zM1373 230h1v1h-1zM1564 230h1v1h-1zM1372 231h1v1h-1zM1565 231h1v1h-1zM1371 232h1v1h-1zM1566 232h1v1h-1zM1370 233h1v1h-1zM1567 233h1v1h-1zM1369 234h1v1h-1zM1568 234h1v1h-1zM1368 235h1v1h-1zM1569 235h1v1h-1zM1367 236h1v1h-1zM1570 236h1v1h-1zM1366 237h1v1h-1zM1571 237h1v1h-1zM1365 238h1v1h-1zM1572 238h1v1h-1zM1364 239h1v1h-1zM1573 239h1v1h-1zM1363 240h1v1h-1zM1574 240h1v1h-1zM1362 241h1v1h-1zM1575 241h1v1h-1zM1361 242h1v1h-1zM1576 242h1v1h-1zM1360 243h1v1h-1zM1577 243h1v1h-1zM1359 244h1v1h-1zM1578 244h2v1h-2zM1358 245h1v1h-1zM1580 245h1v1h-1zM1357 246h1v1h-1zM1581 246h1v1h-1zM1356 247h1v2h-1zM1582 247h1v1h-1zM1583 248h1v1h-1zM1355 249h1v1h-1zM1584 249h1v1h-1zM1354 250h1v1h-1zM1585 250h1v1h-1zM1353 251h1v1h-1zM1586 251h2v1h-2zM1352 252h1v2h-1zM1588 252h1v1h-1zM1589 253h1v1h-1zM1351 254h1v1h-1zM1590 254h1v1h-1zM1350 255h1v1h-1zM1591 255h1v1h-1zM1349 256h1v2h-1zM1592 256h1v1h-1zM1593 257h1v1h-1zM1348 258h1v2h-1zM1594 258h1v1h-1zM1595 259h1v1h-1zM1347 260h1v1h-1zM1596 260h1v1h-1zM1346 261h1v2h-1zM1597 261h1v1h-1zM1598 262h1v1h-1zM1345 263h1v1h-1zM1599 263h1v1h-1zM1344 264h1v2h-1zM1600 264h1v1h-1zM1601 265h1v1h-1zM1343 266h1v2h-1zM1602 266h2v1h-2zM1604 267h1v1h-1zM1342 268h1v1h-1zM1605 268h1v1h-1zM1341 269h1v1h-1zM1606 269h1v1h-1zM1340 270h1v2h-1zM1607 270h1v1h-1zM1608 271h1v1h-1zM1339 272h1v1h-1zM1609 272h1v1h-1zM1338 273h1v1h-1zM1610 273h1v1h-1zM1337 274h1v1h-1zM1611 274h1v1h-1zM1336 275h1v2h-1zM1612 275h1v1h-1zM1613 276h1v1h-1zM1335 277h1v1h-1zM1614 277h1v1h-1zM1334 278h1v1h-1zM1615 278h1v1h-1zM1333 279h1v1h-1zM1616 279h1v1h-1zM1332 280h1v2h-1zM1617 280h1v1h-1zM1618 281h2v1h-2zM1331 282h1v1h-1zM1620 282h1v1h-1zM1330 283h1v1h-1zM1621 283h1v1h-1zM1329 284h1v1h-1zM1622 284h1v1h-1zM1328 285h1v2h-1zM1623 285h1v1h-1zM1624 286h2v1h-2zM1327 287h1v1h-1zM1626 287h1v1h-1zM1326 288h1v1h-1zM1627 288h1v1h-1zM1325 289h1v2h-1zM1628 289h2v1h-2zM1630 290h1v1h-1zM1324 291h1v1h-1zM1631 291h1v1h-1zM1323 292h1v2h-1zM1632 292h1v1h-1zM1633 293h1v1h-1zM1322 294h1v1h-1zM1634 294h2v1h-2zM1321 295h1v2h-1zM1636 295h1v1h-1zM1637 296h1v1h-1zM1320 297h1v1h-1zM1638 297h2v1h-2zM1319 298h1v2h-1zM1640 298h2v1h-2zM1642 299h3v1h-3zM1318 300h1v1h-1zM1645 300h3v1h-3zM1317 301h1v1h-1zM1648 301h2v1h-2zM1316 302h1v1h-1zM1650 302h3v1h-3zM1315 303h1v1h-1zM1653 303h5v1h-5zM1314 304h1v1h-1zM1658 304h5v1h-5zM1313 305h1v1h-1zM1312 306h1v1h-1zM1311 307h1v1h-1zM1310 308h1v1h-1zM1309 309h1v1h-1zM1308 310h1v1h-1zM1307 311h1v1h-1zM1306 312h1v1h-1zM1305 313h1v1h-1zM1304 314h1v1h-1zM1303 315h1v1h-1zM1302 316h1v1h-1zM1301 317h1v1h-1zM1300 318h1v1h-1zM1298 319h2v1h-2zM1297 320h1v1h-1zM1296 321h1v1h-1zM1295 322h1v1h-1zM1294 323h1v1h-1zM1293 324h1v1h-1zM1292 325h1v1h-1zM1291 326h1v1h-1zM1290 327h1v1h-1zM1289 328h1v1h-1zM1288 329h1v1h-1zM1287 330h1v1h-1zM1286 331h1v1h-1zM1285 332h1v1h-1zM1284 333h1v1h-1zM1282 334h2v1h-2zM1281 335h1v1h-1zM1280 336h1v1h-1zM1279 337h1v1h-1zM1278 338h1v1h-1zM1276 339h2v1h-2zM1275 340h1v1h-1zM1274 341h1v1h-1zM1272 342h2v1h-2zM1271 343h1v1h-1zM1270 344h1v1h-1zM1268 345h2v1h-2zM1267 346h1v1h-1zM1266 347h1v1h-1zM1264 348h2v1h-2zM1263 349h1v1h-1zM1262 350h1v1h-1zM1261 351h1v1h-1zM1260 352h1v1h-1zM1258 353h2v1h-2zM1257 354h1v1h-1zM1256 355h1v1h-1zM1255 356h1v1h-1zM1253 357h2v1h-2zM1251 358h2v1h-2zM1249 359h2v1h-2zM1247 360h2v1h-2zM1245 361h2v1h-2zM1243 362h2v1h-2zM1241 363h2v1h-2zM1239 364h2v1h-2zM1237 365h2v1h-2zM1235 366h2v1h-2zM1233 367h2v1h-2zM1231 368h2v1h-2zM1230 369h1v1h-1zM1228 370h2v1h-2zM1227 371h1v1h-1zM1226 372h1v1h-1zM1224 373h2v1h-2zM1223 374h1v1h-1zM1222 375h1v1h-1zM1220 376h2v1h-2zM1218 377h2v1h-2zM1217 378h1v1h-1zM1215 379h2v1h-2zM1213 380h2v1h-2zM1211 381h2v1h-2zM1209 382h2v1h-2zM1207 383h2v1h-2zM1206 384h1v1h-1zM1204 385h2v1h-2zM1202 386h2v1h-2zM1201 387h1v1h-1zM1199 388h2v1h-2zM1197 389h2v1h-2zM1195 390h2v1h-2zM1193 391h2v1h-2zM1191 392h2v1h-2zM1189 393h2v1h-2zM1187 394h2v1h-2zM1185 395h2v1h-2zM1183 396h2v1h-2zM1181 397h2v1h-2zM1179 398h2v1h-2zM1177 399h2v1h-2zM1175 400h2v1h-2zM1173 401h2v1h-2zM1171 402h2v1h-2zM1169 403h2v1h-2zM1167 404h2v1h-2zM1165 405h2v1h-2zM1163 406h2v1h-2zM1161 407h2v1h-2zM1159 408h2v1h-2zM1157 409h2v1h-2zM658 410h14v1h-14zM1154 410h3v1h-3zM650 411h8v1h-8zM672 411h4v1h-4zM1152 411h2v1h-2zM644 412h6v1h-6zM676 412h3v1h-3zM1149 412h3v1h-3zM640 413h4v1h-4zM679 413h2v1h-2zM1146 413h3v1h-3zM634 414h6v1h-6zM681 414h2v1h-2zM1144 414h2v1h-2zM626 415h8v1h-8zM683 415h2v1h-2zM1141 415h3v1h-3zM620 416h6v1h-6zM685 416h2v1h-2zM1138 416h3v1h-3zM616 417h4v1h-4zM687 417h2v1h-2zM1136 417h2v1h-2zM610 418h6v1h-6zM689 418h2v1h-2zM1133 418h3v1h-3zM602 419h8v1h-8zM691 419h2v1h-2zM1130 419h3v1h-3zM522 420h8v1h-8zM538 420h16v1h-16zM596 420h6v1h-6zM693 420h2v1h-2zM1128 420h2v1h-2zM516 421h6v1h-6zM530 421h8v1h-8zM554 421h8v1h-8zM592 421h4v1h-4zM695 421h2v1h-2zM1124 421h4v1h-4zM512 422h4v1h-4zM562 422h30v1h-30zM697 422h2v1h-2zM1120 422h4v1h-4zM509 423h3v1h-3zM699 423h2v1h-2zM1116 423h4v1h-4zM506 424h3v1h-3zM701 424h3v1h-3zM1112 424h4v1h-4zM504 425h2v1h-2zM704 425h2v1h-2zM1108 425h4v1h-4zM500 426h4v1h-4zM706 426h3v1h-3zM1104 426h4v1h-4zM496 427h4v1h-4zM709 427h2v1h-2zM1100 427h4v1h-4zM492 428h4v1h-4zM711 428h2v1h-2zM1096 428h4v1h-4zM488 429h4v1h-4zM713 429h2v1h-2zM1093 429h3v1h-3zM484 430h4v1h-4zM715 430h2v1h-2zM1090 430h3v1h-3zM480 431h4v1h-4zM717 431h3v1h-3zM1088 431h2v1h-2zM466 432h14v1h-14zM720 432h4v1h-4zM1084 432h4v1h-4zM460 433h6v1h-6zM724 433h4v1h-4zM1080 433h4v1h-4zM456 434h4v1h-4zM728 434h2v1h-2zM1076 434h4v1h-4zM452 435h4v1h-4zM730 435h3v1h-3zM1072 435h4v1h-4zM448 436h4v1h-4zM733 436h3v1h-3zM1068 436h4v1h-4zM444 437h4v1h-4zM736 437h2v1h-2zM1064 437h4v1h-4zM440 438h4v1h-4zM738 438h3v1h-3zM1058 438h6v1h-6zM437 439h3v1h-3zM741 439h2v1h-2zM1018 439h40v1h-40zM434 440h3v1h-3zM743 440h2v1h-2zM1010 440h8v1h-8zM432 441h2v1h-2zM745 441h2v1h-2zM994 441h16v1h-16zM429 442h3v1h-3zM747 442h2v1h-2zM962 442h32v1h-32zM426 443h3v1h-3zM749 443h2v1h-2zM930 443h32v1h-32zM424 444h2v1h-2zM751 444h2v1h-2zM924 444h6v1h-6zM421 445h3v1h-3zM753 445h2v1h-2zM920 445h4v1h-4zM418 446h3v1h-3zM755 446h2v1h-2zM916 446h4v1h-4zM416 447h2v1h-2zM757 447h2v1h-2zM912 447h4v1h-4zM413 448h3v1h-3zM759 448h2v1h-2zM908 448h4v1h-4zM411 449h2v1h-2zM761 449h2v1h-2zM904 449h4v1h-4zM409 450h2v1h-2zM763 450h2v1h-2zM900 450h4v1h-4zM407 451h2v1h-2zM765 451h2v1h-2zM896 451h4v1h-4zM405 452h2v1h-2zM767 452h2v1h-2zM893 452h3v1h-3zM403 453h2v1h-2zM769 453h2v1h-2zM890 453h3v1h-3zM401 454h2v1h-2zM771 454h2v1h-2zM888 454h2v1h-2zM399 455h2v1h-2zM773 455h3v1h-3zM884 455h4v1h-4zM397 456h2v1h-2zM776 456h2v1h-2zM880 456h4v1h-4zM395 457h2v1h-2zM778 457h3v1h-3zM876 457h4v1h-4zM393 458h2v1h-2zM781 458h3v1h-3zM872 458h4v1h-4zM391 459h2v1h-2zM784 459h4v1h-4zM869 459h3v1h-3zM389 460h2v1h-2zM788 460h4v1h-4zM866 460h3v1h-3zM387 461h2v1h-2zM792 461h4v1h-4zM864 461h2v1h-2zM385 462h2v1h-2zM796 462h6v1h-6zM861 462h3v1h-3zM383 463h2v1h-2zM802 463h6v1h-6zM858 463h3v1h-3zM381 464h2v1h-2zM808 464h4v1h-4zM856 464h2v1h-2zM379 465h2v1h-2zM812 465h4v1h-4zM852 465h4v1h-4zM377 466h2v1h-2zM816 466h4v1h-4zM848 466h4v1h-4zM375 467h2v1h-2zM820 467h6v1h-6zM842 467h6v1h-6zM373 468h2v1h-2zM826 468h16v1h-16zM370 469h3v1h-3zM368 470h2v1h-2zM365 471h3v1h-3zM363 472h2v1h-2zM361 473h2v1h-2zM359 474h2v1h-2zM356 475h3v1h-3zM352 476h4v1h-4zM258 477h32v1h-32zM298 477h54v1h-54zM234 478h24v1h-24zM290 478h8v1h-8zM210 479h24v1h-24zM186 480h8v1h-8zM202 480h8v1h-8zM181 481h5v1h-5zM194 481h8v1h-8zM178 482h3v1h-3zM176 483h2v1h-2zM162 484h14v1h-14zM156 485h6v1h-6zM152 486h4v1h-4zM148 487h4v1h-4zM144 488h4v1h-4zM140 489h4v1h-4zM136 490h4v1h-4zM133 491h3v1h-3zM130 492h3v1h-3zM128 493h2v1h-2zM124 494h4v1h-4zM120 495h4v1h-4zM117 496h3v1h-3zM114 497h3v1h-3zM112 498h2v1h-2zM108 499h4v1h-4zM104 500h4v1h-4zM98 501h6v1h-6zM18 502h32v1h-32zM92 502h6v1h-6zM10 503h8v1h-8zM50 503h8v1h-8zM88 503h4v1h-4zM6 504h4v1h-4zM58 504h30v1h-30z" fill="#FFA500"/>
<path d="M1661 245h2v1h-2zM1658 246h3v1h-3zM1656 247h2v1h-2zM1650 248h6v1h-6zM1586 249h24v1h-24zM1642 249h8v1h-8zM1578 250h8v1h-8zM1610 250h32v1h-32zM1570 251h8v1h-8zM1541 252h29v1h-29zM1538 253h3v1h-3zM1536 254h2v1h-2zM1533 255h3v1h-3zM1530 256h3v1h-3zM1528 257h2v1h-2zM1525 258h3v1h-3zM1522 259h3v1h-3zM1520 260h2v1h-2zM1517 261h3v1h-3zM1515 262h2v1h-2zM1513 263h2v1h-2zM1511 264h2v1h-2zM1509 265h2v1h-2zM1506 266h3v1h-3zM1504 267h2v1h-2zM1501 268h3v1h-3zM1499 269h2v1h-2zM1497 270h2v1h-2zM1495 271h2v1h-2zM1494 272h1v1h-1zM1492 273h2v1h-2zM1490 274h2v1h-2zM1489 275h1v1h-1zM1487 276h2v1h-2zM1485 277h2v1h-2zM1483 278h2v1h-2zM1481 279h2v1h-2zM1479 280h2v1h-2zM1477 281h2v1h-2zM1475 282h2v1h-2zM1473 283h2v1h-2zM1471 284h2v1h-2zM1469 285h2v1h-2zM1467 286h2v1h-2zM1465 287h2v1h-2zM1463 288h2v1h-2zM1461 289h2v1h-2zM1459 290h2v1h-2zM1457 291h2v1h-2zM1455 292h2v1h-2zM1453 293h2v1h-2zM1451 294h2v1h-2zM1449 295h2v1h-2zM1447 296h2v1h-2zM1445 297h2v1h-2zM1443 298h2v1h-2zM1441 299h2v1h-2zM1439 300h2v1h-2zM1438 301h1v1h-1zM1436 302h2v1h-2zM1434 303h2v1h-2zM1433 304h1v1h-1zM1431 305h2v1h-2zM1429 306h2v1h-2zM1427 307h2v1h-2zM1425 308h2v1h-2zM1423 309h2v1h-2zM1421 310h2v1h-2zM1419 311h2v1h-2zM1417 312h2v1h-2zM1415 313h2v1h-2zM1414 314h1v1h-1zM1412 315h2v1h-2zM1410 316h2v1h-2zM1409 317h1v1h-1zM1407 318h2v1h-2zM1405 319h2v1h-2zM1403 320h2v1h-2zM1401 321h2v1h-2zM1399 322h2v1h-2zM1397 323h2v1h-2zM1395 324h2v1h-2zM1393 325h2v1h-2zM1391 326h2v1h-2zM1390 327h1v1h-1zM1388 328h2v1h-2zM1386 329h2v1h-2zM1385 330h1v1h-1zM1383 331h2v1h-2zM1382 332h1v1h-1zM1380 333h2v1h-2zM1378 334h2v1h-2zM1377 335h1v1h-1zM1375 336h2v1h-2zM1374 337h1v1h-1zM1372 338h2v1h-2zM1371 339h1v1h-1zM1370 340h1v1h-1zM1368 341h2v1h-2zM1367 342h1v1h-1zM1366 343h1v1h-1zM1364 344h2v1h-2zM1362 345h2v1h-2zM1361 346h1v1h-1zM1359 347h2v1h-2zM1358 348h1v1h-1zM1356 349h2v1h-2zM1355 350h1v1h-1zM1354 351h1v1h-1zM1352 352h2v1h-2zM1351 353h1v1h-1zM1350 354h1v1h-1zM1348 355h2v1h-2zM1346 356h2v1h-2zM1345 357h1v1h-1zM1343 358h2v1h-2zM1342 359h1v1h-1zM1340 360h2v1h-2zM1339 361h1v1h-1zM1338 362h1v1h-1zM1336 363h2v1h-2zM1335 364h1v1h-1zM1334 365h1v1h-1zM1332 366h2v1h-2zM1330 367h2v1h-2zM1329 368h1v1h-1zM1327 369h2v1h-2zM1326 370h1v1h-1zM1324 371h2v1h-2zM1323 372h1v1h-1zM1322 373h1v1h-1zM1320 374h2v1h-2zM1319 375h1v1h-1zM1318 376h1v1h-1zM1316 377h2v1h-2zM1314 378h2v1h-2zM1313 379h1v1h-1zM1311 380h2v1h-2zM1309 381h2v1h-2zM1307 382h2v1h-2zM1305 383h2v1h-2zM1303 384h2v1h-2zM1301 385h2v1h-2zM1299 386h2v1h-2zM1297 387h2v1h-2zM1295 388h2v1h-2zM1293 389h2v1h-2zM1290 390h3v1h-3zM1288 391h2v1h-2zM1285 392h3v1h-3zM1282 393h3v1h-3zM1280 394h2v1h-2zM1277 395h3v1h-3zM1274 396h3v1h-3zM1272 397h2v1h-2zM1269 398h3v1h-3zM1266 399h3v1h-3zM1264 400h2v1h-2zM1261 401h3v1h-3zM1258 402h3v1h-3zM1256 403h2v1h-2zM1253 404h3v1h-3zM1250 405h3v1h-3zM1248 406h2v1h-2zM1245 407h3v1h-3zM1242 408h3v1h-3zM1240 409h2v1h-2zM1236 410h4v1h-4zM1232 411h4v1h-4zM1228 412h4v1h-4zM1224 413h4v1h-4zM1221 414h3v1h-3zM1218 415h3v1h-3zM1216 416h2v1h-2zM1212 417h4v1h-4zM1208 418h4v1h-4zM1205 419h3v1h-3zM1202 420h3v1h-3zM1200 421h2v1h-2zM1197 422h3v1h-3zM1194 423h3v1h-3zM1192 424h2v1h-2zM1189 425h3v1h-3zM1186 426h3v1h-3zM1184 427h2v1h-2zM1180 428h4v1h-4zM1176 429h4v1h-4zM1173 430h3v1h-3zM1170 431h3v1h-3zM666 432h80v1h-80zM1168 432h2v1h-2zM660 433h6v1h-6zM746 433h56v1h-56zM1165 433h3v1h-3zM656 434h4v1h-4zM802 434h8v1h-8zM1162 434h3v1h-3zM650 435h6v1h-6zM810 435h16v1h-16zM1160 435h2v1h-2zM642 436h8v1h-8zM826 436h8v1h-8zM1156 436h4v1h-4zM634 437h8v1h-8zM834 437h16v1h-16zM1152 437h4v1h-4zM626 438h8v1h-8zM850 438h16v1h-16zM906 438h16v1h-16zM1146 438h6v1h-6zM618 439h8v1h-8zM866 439h40v1h-40zM922 439h24v1h-24zM1140 439h6v1h-6zM610 440h8v1h-8zM946 440h8v1h-8zM1136 440h4v1h-4zM602 441h8v1h-8zM954 441h8v1h-8zM1130 441h6v1h-6zM596 442h6v1h-6zM962 442h16v1h-16zM1124 442h6v1h-6zM592 443h4v1h-4zM978 443h8v1h-8zM1120 443h4v1h-4zM586 444h6v1h-6zM986 444h40v1h-40zM1114 444h6v1h-6zM578 445h8v1h-8zM1026 445h16v1h-16zM1106 445h8v1h-8zM572 446h6v1h-6zM1042 446h8v1h-8zM1066 446h40v1h-40zM568 447h4v1h-4zM1050 447h16v1h-16zM562 448h6v1h-6zM554 449h8v1h-8zM546 450h8v1h-8zM538 451h8v1h-8zM532 452h6v1h-6zM528 453h4v1h-4zM522 454h6v1h-6zM516 455h6v1h-6zM512 456h4v1h-4zM506 457h6v1h-6zM498 458h8v1h-8zM492 459h6v1h-6zM488 460h4v1h-4zM474 461h14v1h-14zM466 462h8v1h-8zM458 463h8v1h-8zM442 464h16v1h-16zM436 465h6v1h-6zM432 466h4v1h-4zM428 467h4v1h-4zM424 468h4v1h-4zM418 469h6v1h-6zM413 470h5v1h-5zM410 471h3v1h-3zM408 472h2v1h-2zM404 473h4v1h-4zM400 474h4v1h-4zM397 475h3v1h-3zM394 476h3v1h-3zM392 477h2v1h-2zM42 478h46v1h-46zM388 478h4v1h-4zM36 479h6v1h-6zM88 479h4v1h-4zM384 479h4v1h-4zM32 480h4v1h-4zM92 480h6v1h-6zM380 480h4v1h-4zM26 481h6v1h-6zM98 481h8v1h-8zM376 481h4v1h-4zM20 482h6v1h-6zM106 482h8v1h-8zM372 482h4v1h-4zM16 483h4v1h-4zM114 483h40v1h-40zM368 483h4v1h-4zM12 484h4v1h-4zM154 484h8v1h-8zM364 484h4v1h-4zM8 485h4v1h-4zM162 485h14v1h-14zM360 485h4v1h-4zM6 486h2v1h-2zM176 486h4v1h-4zM354 486h6v1h-6zM180 487h4v1h-4zM346 487h8v1h-8zM184 488h4v1h-4zM322 488h24v1h-24zM188 489h6v1h-6zM298 489h24v1h-24zM194 490h6v1h-6zM274 490h24v1h-24zM200 491h4v1h-4zM266 491h8v1h-8zM204 492h22v1h-22zM242 492h24v1h-24zM226 493h16v1h-16z" fill="#FF00FF"/>
<rect x="5" y="36" width="1682" height="1" fill="#000"/>
<rect x="5" y="528" width="1682" height="1" fill="#000"/>
<rect x="5" y="36" width="1" height="493" fill="#000"/>
<rect x="1686" y="36" width="1" height="493" fill="#000"/>
<rect x="5" y="530" width="1682" height="1" fill="#000"/>
<rect x="5" y="669" width="1682" height="1" fill="#000"/>
<rect x="5" y="530" width="1" height="140" fill="#000"/>
<rect x="1686" y="530" width="1" height="140" fill="#000"/>
<rect x="5" y="671" width="1682" height="1" fill="#000"/>
<rect x="5" y="772" width="1682" height="1" fill="#000"/>
<rect x="5" y="671" width="1" height="102" fill="#000"/>
<rect x="1686" y="671" width="1" height="102" fill="#000"/>
<rect x="5" y="529" width="1683" height="1" fill="#fff"/>
<rect x="5" y="670" width="1683" height="1" fill="#fff"/>
<rect x="1686" y="198" width="1" height="1" fill="#778899"/>
<rect x="6" y="89" width="1681" height="2" fill="#FF0000"/>
<rect x="5" y="87" width="6" height="6" fill="#FF0000"/>
<rect x="7" y="89" width="2" height="2" fill="#fff"/>
<rect x="1680" y="87" width="6" height="6" fill="#FF0000"/>
<rect x="1682" y="89" width="2" height="2" fill="#fff"/>
<rect x="6" y="185" width="1681" height="2" fill="#FF0000"/>
<rect x="6" y="312" width="1681" height="2" fill="#00FF7F"/>
<rect x="5" y="310" width="6" height="6" fill="#00FF7F"/>
<rect x="7" y="312" width="2" height="2" fill="#fff"/>
<rect x="1680" y="310" width="6" height="6" fill="#00FF7F"/>
<rect x="1682" y="312" width="2" height="2" fill="#fff"/>
<rect x="6" y="376" width="1681" height="2" fill="#4169E1"/>
<rect x="5" y="374" width="6" height="6" fill="#4169E1"/>
<rect x="7" y="376" width="2" height="2" fill="#fff"/>
<rect x="1680" y="374" width="6" height="6" fill="#4169E1"/>
<rect x="1682" y="376" width="2" height="2" fill="#fff"/>
<rect x="6" y="423" width="1681" height="2" fill="#4169E1"/>
<rect x="6" y="462" width="1681" height="2" fill="#4169E1"/>
<g id="macd">
<rect x="6" y="615" width="1" height="6" fill="#C0C0C0"/>
<rect x="14" y="615" width="1" height="5" fill="#C0C0C0"/>
<rect x="22" y="615" width="1" height="3" fill="#C0C0C0"/>
<rect x="54" y="614" width="1" height="2" fill="#C0C0C0"/>
<rect x="94" y="615" width="1" height="1" fill="#C0C0C0"/>
<rect x="102" y="614" width="1" height="2" fill="#C0C0C0"/>
<rect x="110" y="613" width="1" height="3" fill="#C0C0C0"/>
<rect x="118" y="612" width="1" height="4" fill="#C0C0C0"/>
<rect x="126" y="611" width="1" height="5" fill="#C0C0C0"/>
<rect x="134" y="610" width="1" height="6" fill="#C0C0C0"/>
<rect x="142" y="609" width="1" height="7" fill="#C0C0C0"/>
<rect x="150" y="608" width="1" height="8" fill="#C0C0C0"/>
<rect x="158" y="608" width="1" height="8" fill="#C0C0C0"/>
<rect x="166" y="608" width="1" height="8" fill="#C0C0C0"/>
<rect x="174" y="607" width="1" height="9" fill="#C0C0C0"/>
<rect x="182" y="606" width="1" height="10" fill="#C0C0C0"/>
<rect x="190" y="607" width="1" height="9" fill="#C0C0C0"/>
<rect x="198" y="608" width="1" height="8" fill="#C0C0C0"/>
<rect x="206" y="609" width="1" height="7" fill="#C0C0C0"/>
<rect x="214" y="610" width="1" height="6" fill="#C0C0C0"/>
<rect x="222" y="612" width="1" height="4" fill="#C0C0C0"/>
<rect x="230" y="614" width="1" height="2" fill="#C0C0C0"/>
<rect x="238" y="615" width="1" height="1" fill="#C0C0C0"/>
<rect x="246" y="615" width="1" height="1" fill="#C0C0C0"/>
<rect x="254" y="615" width="1" height="1" fill="#C0C0C0"/>
<rect x="262" y="615" width="1" height="1" fill="#C0C0C0"/>
<rect x="270" y="614" width="1" height="2" fill="#C0C0C0"/>
<rect x="278" y="614" width="1" height="2" fill="#C0C0C0"/>
<rect x="286" y="615" width="1" height="1" fill="#C0C0C0"/>
<rect x="310" y="614" width="1" height="2" fill="#C0C0C0"/>
<rect x="318" y="613" width="1" height="3" fill="#C0C0C0"/>
<rect x="326" y="613" width="1" height="3" fill="#C0C0C0"/>
<rect x="334" y="612" width="1" height="4" fill="#C0C0C0"/>
<rect x="342" y="612" width="1" height="4" fill="#C0C0C0"/>
<rect x="350" y="610" width="1" height="6" fill="#C0C0C0"/>
<rect x="358" y="608" width="1" height="8" fill="#C0C0C0"/>
<rect x="366" y="602" width="1" height="14" fill="#C0C0C0"/>
<rect x="374" y="600" width="1" height="16" fill="#C0C0C0"/>
<rect x="382" y="598" width="1" height="18" fill="#C0C0C0"/>
<rect x="390" y="595" width="1" height="21" fill="#C0C0C0"/>
<rect x="398" y="592" width="1" height="24" fill="#C0C0C0"/>
<rect x="406" y="592" width="1" height="24" fill="#C0C0C0"/>
<rect x="414" y="592" width="1" height="24" fill="#C0C0C0"/>
<rect x="422" y="592" width="1" height="24" fill="#C0C0C0"/>
<rect x="430" y="594" width="1" height="22" fill="#C0C0C0"/>
<rect x="438" y="596" width="1" height="20" fill="#C0C0C0"/>
<rect x="446" y="598" width="1" height="18" fill="#C0C0C0"/>
<rect x="454" y="602" width="1" height="14" fill="#C0C0C0"/>
<rect x="462" y="605" width="1" height="11" fill="#C0C0C0"/>
<rect x="470" y="608" width="1" height="8" fill="#C0C0C0"/>
<rect x="478" y="610" width="1" height="6" fill="#C0C0C0"/>
<rect x="486" y="610" width="1" height="6" fill="#C0C0C0"/>
<rect x="494" y="612" width="1" height="4" fill="#C0C0C0"/>
<rect x="502" y="610" width="1" height="6" fill="#C0C0C0"/>
<rect x="510" y="609" width="1" height="7" fill="#C0C0C0"/>
<rect x="518" y="608" width="1" height="8" fill="#C0C0C0"/>
<rect x="526" y="607" width="1" height="9" fill="#C0C0C0"/>
<rect x="534" y="606" width="1" height="10" fill="#C0C0C0"/>
<rect x="542" y="605" width="1" height="11" fill="#C0C0C0"/>
<rect x="550" y="605" width="1" height="11" fill="#C0C0C0"/>
<rect x="558" y="606" width="1" height="10" fill="#C0C0C0"/>
<rect x="566" y="608" width="1" height="8" fill="#C0C0C0"/>
<rect x="574" y="608" width="1" height="8" fill="#C0C0C0"/>
<rect x="582" y="608" width="1" height="8" fill="#C0C0C0"/>
<rect x="590" y="606" width="1" height="10" fill="#C0C0C0"/>
<rect x="598" y="604" width="1" height="12" fill="#C0C0C0"/>
<rect x="606" y="602" width="1" height="14" fill="#C0C0C0"/>
<rect x="614" y="604" width="1" height="12" fill="#C0C0C0"/>
<rect x="622" y="605" width="1" height="11" fill="#C0C0C0"/>
<rect x="630" y="607" width="1" height="9" fill="#C0C0C0"/>
<rect x="638" y="609" width="1" height="7" fill="#C0C0C0"/>
<rect x="646" y="610" width="1" height="6" fill="#C0C0C0"/>
<rect x="654" y="610" width="1" height="6" fill="#C0C0C0"/>
<rect x="662" y="612" width="1" height="4" fill="#C0C0C0"/>
<rect x="670" y="615" width="1" height="1" fill="#C0C0C0"/>
<rect x="686" y="615" width="1" height="7" fill="#C0C0C0"/>
<rect x="694" y="615" width="1" height="13" fill="#C0C0C0"/>
<rect x="702" y="615" width="1" height="17" fill="#C0C0C0"/>
<rect x="710" y="615" width="1" height="19" fill="#C0C0C0"/>
<rect x="718" y="615" width="1" height="19" fill="#C0C0C0"/>
<rect x="726" y="615" width="1" height="21" fill="#C0C0C0"/>
<rect x="734" y="615" width="1" height="21" fill="#C0C0C0"/>
<rect x="742" y="615" width="1" height="21" fill="#C0C0C0"/>
<rect x="750" y="615" width="1" height="21" fill="#C0C0C0"/>
<rect x="758" y="615" width="1" height="21" fill="#C0C0C0"/>
<rect x="766" y="615" width="1" height="20" fill="#C0C0C0"/>
<rect x="774" y="615" width="1" height="17" fill="#C0C0C0"/>
<rect x="782" y="615" width="1" height="15" fill="#C0C0C0"/>
<rect x="790" y="615" width="1" height="13" fill="#C0C0C0"/>
<rect x="798" y="615" width="1" height="10" fill="#C0C0C0"/>
<rect x="806" y="615" width="1" height="8" fill="#C0C0C0"/>
<rect x="814" y="615" width="1" height="6" fill="#C0C0C0"/>
<rect x="822" y="615" width="1" height="4" fill="#C0C0C0"/>
<rect x="830" y="615" width="1" height="3" fill="#C0C0C0"/>
<rect x="846" y="614" width="1" height="2" fill="#C0C0C0"/>
<rect x="854" y="614" width="1" height="2" fill="#C0C0C0"/>
<rect x="862" y="612" width="1" height="4" fill="#C0C0C0"/>
<rect x="870" y="611" width="1" height="5" fill="#C0C0C0"/>
<rect x="878" y="610" width="1" height="6" fill="#C0C0C0"/>
<rect x="886" y="610" width="1" height="6" fill="#C0C0C0"/>
<rect x="894" y="610" width="1" height="6" fill="#C0C0C0"/>
<rect x="902" y="610" width="1" height="6" fill="#C0C0C0"/>
<rect x="910" y="611" width="1" height="5" fill="#C0C0C0"/>
<rect x="918" y="613" width="1" height="3" fill="#C0C0C0"/>
<rect x="926" y="615" width="1" height="1" fill="#C0C0C0"/>
<rect x="934" y="615" width="1" height="1" fill="#C0C0C0"/>
<rect x="942" y="615" width="1" height="1" fill="#C0C0C0"/>
<rect x="950" y="615" width="1" height="1" fill="#C0C0C0"/>
<rect x="966" y="615" width="1" height="1" fill="#C0C0C0"/>
<rect x="982" y="615" width="1" height="1" fill="#C0C0C0"/>
<rect x="1006" y="614" width="1" height="2" fill="#C0C0C0"/>
<rect x="1014" y="612" width="1" height="4" fill="#C0C0C0"/>
<rect x="1022" y="612" width="1" height="4" fill="#C0C0C0"/>
<rect x="1030" y="610" width="1" height="6" fill="#C0C0C0"/>
<rect x="1038" y="608" width="1" height="8" fill="#C0C0C0"/>
<rect x="1046" y="610" width="1" height="6" fill="#C0C0C0"/>
<rect x="1054" y="608" width="1" height="8" fill="#C0C0C0"/>
<rect x="1062" y="608" width="1" height="8" fill="#C0C0C0"/>
<rect x="1070" y="606" width="1" height="10" fill="#C0C0C0"/>
<rect x="1078" y="605" width="1" height="11" fill="#C0C0C0"/>
<rect x="1086" y="604" width="1" height="12" fill="#C0C0C0"/>
<rect x="1094" y="603" width="1" height="13" fill="#C0C0C0"/>
<rect x="1102" y="603" width="1" height="13" fill="#C0C0C0"/>
<rect x="1110" y="604" width="1" height="12" fill="#C0C0C0"/>
<rect x="1118" y="604" width="1" height="12" fill="#C0C0C0"/>
<rect x="1126" y="604" width="1" height="12" fill="#C0C0C0"/>
<rect x="1134" y="603" width="1" height="13" fill="#C0C0C0"/>
<rect x="1142" y="603" width="1" height="13" fill="#C0C0C0"/>
<rect x="1150" y="601" width="1" height="15" fill="#C0C0C0"/>
<rect x="1158" y="601" width="1" height="15" fill="#C0C0C0"/>
<rect x="1166" y="597" width="1" height="19" fill="#C0C0C0"/>
<rect x="1174" y="594" width="1" height="22" fill="#C0C0C0"/>
<rect x="1182" y="592" width="1" height="24" fill="#C0C0C0"/>
<rect x="1190" y="590" width="1" height="26" fill="#C0C0C0"/>
<rect x="1198" y="588" width="1" height="28" fill="#C0C0C0"/>
<rect x="1206" y="586" width="1" height="30" fill="#C0C0C0"/>
<rect x="1214" y="585" width="1" height="31" fill="#C0C0C0"/>
<rect x="1222" y="585" width="1" height="31" fill="#C0C0C0"/>
<rect x="1230" y="584" width="1" height="32" fill="#C0C0C0"/>
<rect x="1238" y="583" width="1" height="33" fill="#C0C0C0"/>
<rect x="1246" y="583" width="1" height="33" fill="#C0C0C0"/>
<rect x="1254" y="582" width="1" height="34" fill="#C0C0C0"/>
<rect x="1262" y="581" width="1" height="35" fill="#C0C0C0"/>
<rect x="1270" y="580" width="1" height="36" fill="#C0C0C0"/>
<rect x="1278" y="579" width="1" height="37" fill="#C0C0C0"/>
<rect x="1286" y="578" width="1" height="38" fill="#C0C0C0"/>
<rect x="1294" y="574" width="1" height="42" fill="#C0C0C0"/>
<rect x="1302" y="572" width="1" height="44" fill="#C0C0C0"/>
<rect x="1310" y="568" width="1" height="48" fill="#C0C0C0"/>
<rect x="1318" y="565" width="1" height="51" fill="#C0C0C0"/>
<rect x="1326" y="558" width="1" height="58" fill="#C0C0C0"/>
<rect x="1334" y="554" width="1" height="62" fill="#C0C0C0"/>
<rect x="1342" y="548" width="1" height="68" fill="#C0C0C0"/>
<rect x="1350" y="541" width="1" height="75" fill="#C0C0C0"/>
<rect x="1358" y="539" width="1" height="77" fill="#C0C0C0"/>
<rect x="1366" y="544" width="1" height="72" fill="#C0C0C0"/>
<rect x="1374" y="549" width="1" height="67" fill="#C0C0C0"/>
<rect x="1382" y="553" width="1" height="63" fill="#C0C0C0"/>
<rect x="1390" y="561" width="1" height="55" fill="#C0C0C0"/>
<rect x="1398" y="567" width="1" height="49" fill="#C0C0C0"/>
<rect x="1406" y="569" width="1" height="47" fill="#C0C0C0"/>
<rect x="1414" y="573" width="1" height="43" fill="#C0C0C0"/>
<rect x="1422" y="579" width="1" height="37" fill="#C0C0C0"/>
<rect x="1430" y="585" width="1" height="31" fill="#C0C0C0"/>
<rect x="1438" y="588" width="1" height="28" fill="#C0C0C0"/>
<rect x="1446" y="590" width="1" height="26" fill="#C0C0C0"/>
<rect x="1454" y="595" width="1" height="21" fill="#C0C0C0"/>
<rect x="1462" y="596" width="1" height="20" fill="#C0C0C0"/>
<rect x="1470" y="598" width="1" height="18" fill="#C0C0C0"/>
<rect x="1478" y="598" width="1" height="18" fill="#C0C0C0"/>
<rect x="1486" y="599" width="1" height="17" fill="#C0C0C0"/>
<rect x="1494" y="600" width="1" height="16" fill="#C0C0C0"/>
<rect x="1502" y="599" width="1" height="17" fill="#C0C0C0"/>
<rect x="1510" y="602" width="1" height="14" fill="#C0C0C0"/>
<rect x="1518" y="604" width="1" height="12" fill="#C0C0C0"/>
<rect x="1526" y="607" width="1" height="9" fill="#C0C0C0"/>
<rect x="1534" y="613" width="1" height="3" fill="#C0C0C0"/>
<rect x="1542" y="615" width="1" height="1" fill="#C0C0C0"/>
<rect x="1550" y="615" width="1" height="18" fill="#C0C0C0"/>
<rect x="1558" y="615" width="1" height="31" fill="#C0C0C0"/>
<rect x="1566" y="615" width="1" height="41" fill="#C0C0C0"/>
<rect x="1574" y="615" width="1" height="43" fill="#C0C0C0"/>
<rect x="1582" y="615" width="1" height="45" fill="#C0C0C0"/>
<rect x="1590" y="615" width="1" height="44" fill="#C0C0C0"/>
<rect x="1598" y="615" width="1" height="46" fill="#C0C0C0"/>
<rect x="1606" y="615" width="1" height="46" fill="#C0C0C0"/>
<rect x="1614" y="615" width="1" height="47" fill="#C0C0C0"/>
<rect x="1622" y="615" width="1" height="46" fill="#C0C0C0"/>
<rect x="1630" y="615" width="1" height="45" fill="#C0C0C0"/>
<rect x="1638" y="615" width="1" height="41" fill="#C0C0C0"/>
<rect x="1646" y="615" width="1" height="29" fill="#C0C0C0"/>
<rect x="1654" y="615" width="1" height="21" fill="#C0C0C0"/>
<rect x="1662" y="615" width="1" height="9" fill="#C0C0C0"/>
</g>
<path d="M1386 548h3v1h-3zM1380 549h3v1h-3zM1392 549h3v1h-3zM1376 550h1v1h-1zM1398 550h3v1h-3zM1374 551h2v1h-2zM1404 551h3v1h-3zM1368 552h3v1h-3zM1410 552h2v1h-2zM1412 553h1v1h-1zM1363 554h2v1h-2zM1416 554h1v1h-1zM1362 555h1v1h-1zM1417 555h1v1h-1zM1418 556h1v1h-1zM1357 557h2v1h-2zM1356 558h1v1h-1zM1422 558h1v1h-1zM1423 559h2v1h-2zM1351 560h2v1h-2zM1350 561h1v1h-1zM1428 561h1v1h-1zM1429 562h2v1h-2zM1345 563h2v1h-2zM1344 564h1v1h-1zM1434 565h2v1h-2zM1339 566h2v1h-2zM1436 566h1v1h-1zM1338 567h1v1h-1zM1440 568h1v1h-1zM1333 569h2v1h-2zM1441 569h1v1h-1zM1332 570h1v1h-1zM1442 570h1v1h-1zM1328 571h1v1h-1zM1326 572h2v1h-2zM1446 572h1v1h-1zM1322 573h1v1h-1zM1447 573h2v1h-2zM1320 574h2v1h-2zM1316 575h1v1h-1zM1314 576h2v1h-2zM1452 576h2v1h-2zM1308 577h3v1h-3zM1454 577h1v1h-1zM1298 578h1v1h-1zM1302 578h3v1h-3zM1292 579h1v1h-1zM1296 579h2v1h-2zM1290 580h2v1h-2zM1458 580h2v1h-2zM1274 581h1v1h-1zM1278 581h3v1h-3zM1284 581h3v1h-3zM1460 581h1v1h-1zM1266 582h3v1h-3zM1272 582h2v1h-2zM1260 583h3v1h-3zM1464 583h2v1h-2zM1250 584h1v1h-1zM1254 584h3v1h-3zM1466 584h1v1h-1zM1242 585h3v1h-3zM1248 585h2v1h-2zM1470 585h2v1h-2zM1236 586h3v1h-3zM1472 586h1v1h-1zM1232 587h1v1h-1zM1476 587h1v1h-1zM1230 588h2v1h-2zM1477 588h2v1h-2zM1224 589h3v1h-3zM1220 590h1v1h-1zM1482 590h3v1h-3zM1218 591h2v1h-2zM1212 592h3v1h-3zM1488 592h3v1h-3zM434 593h1v1h-1zM438 593h3v1h-3zM444 593h3v1h-3zM450 593h3v1h-3zM456 593h3v1h-3zM462 593h2v1h-2zM1206 593h3v1h-3zM1494 593h2v1h-2zM426 594h3v1h-3zM432 594h2v1h-2zM464 594h1v1h-1zM1200 594h3v1h-3zM1496 594h1v1h-1zM421 595h2v1h-2zM468 595h1v1h-1zM1196 595h1v1h-1zM1500 595h3v1h-3zM420 596h1v1h-1zM469 596h2v1h-2zM1194 596h2v1h-2zM1506 596h3v1h-3zM1512 596h2v1h-2zM416 597h1v1h-1zM474 597h2v1h-2zM1188 597h3v1h-3zM1514 597h1v1h-1zM1518 597h2v1h-2zM410 598h1v1h-1zM414 598h2v1h-2zM476 598h1v1h-1zM1184 598h1v1h-1zM1520 598h1v1h-1zM408 599h2v1h-2zM480 599h3v1h-3zM1182 599h2v1h-2zM1524 599h3v1h-3zM402 600h3v1h-3zM486 600h2v1h-2zM1176 600h3v1h-3zM1530 600h3v1h-3zM488 601h1v1h-1zM1164 601h3v1h-3zM1170 601h3v1h-3zM1536 601h3v1h-3zM397 602h2v1h-2zM492 602h3v1h-3zM1146 602h3v1h-3zM1152 602h3v1h-3zM1158 602h3v1h-3zM1542 602h1v1h-1zM396 603h1v1h-1zM498 603h2v1h-2zM1130 603h1v1h-1zM1134 603h3v1h-3zM1140 603h3v1h-3zM1543 603h2v1h-2zM392 604h1v1h-1zM500 604h1v1h-1zM594 604h3v1h-3zM600 604h3v1h-3zM606 604h3v1h-3zM612 604h3v1h-3zM618 604h3v1h-3zM624 604h3v1h-3zM630 604h3v1h-3zM636 604h3v1h-3zM1116 604h3v1h-3zM1122 604h3v1h-3zM1128 604h2v1h-2zM386 605h1v1h-1zM390 605h2v1h-2zM504 605h3v1h-3zM564 605h3v1h-3zM570 605h3v1h-3zM576 605h3v1h-3zM582 605h3v1h-3zM588 605h3v1h-3zM642 605h3v1h-3zM648 605h3v1h-3zM654 605h3v1h-3zM1098 605h3v1h-3zM1104 605h3v1h-3zM1110 605h3v1h-3zM1548 605h1v1h-1zM380 606h1v1h-1zM384 606h2v1h-2zM510 606h3v1h-3zM546 606h3v1h-3zM552 606h3v1h-3zM558 606h3v1h-3zM660 606h3v1h-3zM1092 606h3v1h-3zM1549 606h2v1h-2zM180 607h3v1h-3zM186 607h3v1h-3zM192 607h3v1h-3zM198 607h3v1h-3zM204 607h3v1h-3zM210 607h3v1h-3zM216 607h3v1h-3zM222 607h3v1h-3zM228 607h3v1h-3zM378 607h2v1h-2zM516 607h3v1h-3zM522 607h3v1h-3zM528 607h3v1h-3zM534 607h3v1h-3zM540 607h3v1h-3zM666 607h3v1h-3zM1082 607h1v1h-1zM1086 607h3v1h-3zM170 608h1v1h-1zM174 608h3v1h-3zM234 608h2v1h-2zM372 608h3v1h-3zM672 608h3v1h-3zM1068 608h3v1h-3zM1074 608h3v1h-3zM1080 608h2v1h-2zM162 609h3v1h-3zM168 609h2v1h-2zM236 609h1v1h-1zM240 609h3v1h-3zM246 609h2v1h-2zM366 609h3v1h-3zM678 609h2v1h-2zM1058 609h1v1h-1zM1062 609h3v1h-3zM1554 609h1v1h-1zM156 610h3v1h-3zM248 610h1v1h-1zM360 610h3v1h-3zM680 610h1v1h-1zM906 610h3v1h-3zM912 610h3v1h-3zM918 610h3v1h-3zM924 610h3v1h-3zM930 610h3v1h-3zM936 610h3v1h-3zM942 610h3v1h-3zM1050 610h3v1h-3zM1056 610h2v1h-2zM1555 610h1v1h-1zM132 611h3v1h-3zM138 611h3v1h-3zM144 611h3v1h-3zM150 611h3v1h-3zM252 611h3v1h-3zM258 611h3v1h-3zM264 611h2v1h-2zM354 611h3v1h-3zM684 611h3v1h-3zM900 611h3v1h-3zM948 611h3v1h-3zM1044 611h3v1h-3zM1556 611h1v1h-1zM122 612h1v1h-1zM126 612h3v1h-3zM266 612h1v1h-1zM270 612h3v1h-3zM338 612h1v1h-1zM342 612h3v1h-3zM348 612h3v1h-3zM690 612h2v1h-2zM884 612h1v1h-1zM888 612h3v1h-3zM894 612h3v1h-3zM954 612h3v1h-3zM960 612h2v1h-2zM1026 612h3v1h-3zM1032 612h3v1h-3zM1038 612h3v1h-3zM108 613h3v1h-3zM114 613h3v1h-3zM120 613h2v1h-2zM276 613h3v1h-3zM282 613h3v1h-3zM288 613h3v1h-3zM294 613h3v1h-3zM314 613h1v1h-1zM318 613h3v1h-3zM324 613h3v1h-3zM330 613h3v1h-3zM336 613h2v1h-2zM692 613h1v1h-1zM882 613h2v1h-2zM962 613h1v1h-1zM966 613h3v1h-3zM1020 613h3v1h-3zM90 614h3v1h-3zM96 614h3v1h-3zM102 614h3v1h-3zM300 614h3v1h-3zM306 614h3v1h-3zM312 614h2v1h-2zM696 614h3v1h-3zM877 614h2v1h-2zM972 614h3v1h-3zM978 614h3v1h-3zM984 614h2v1h-2zM1002 614h3v1h-3zM1008 614h3v1h-3zM1014 614h3v1h-3zM1560 614h1v1h-1zM74 615h1v1h-1zM78 615h3v1h-3zM84 615h3v1h-3zM702 615h1v1h-1zM876 615h1v1h-1zM986 615h1v1h-1zM990 615h3v1h-3zM996 615h3v1h-3zM1561 615h1v1h-1zM66 616h3v1h-3zM72 616h2v1h-2zM703 616h2v1h-2zM872 616h1v1h-1zM1562 616h1v1h-1zM60 617h3v1h-3zM866 617h1v1h-1zM870 617h2v1h-2zM54 618h3v1h-3zM708 618h1v1h-1zM858 618h3v1h-3zM864 618h2v1h-2zM48 619h3v1h-3zM709 619h2v1h-2zM852 619h3v1h-3zM1566 619h1v1h-1zM42 620h3v1h-3zM714 620h2v1h-2zM848 620h1v1h-1zM1567 620h1v1h-1zM36 621h3v1h-3zM716 621h1v1h-1zM846 621h2v1h-2zM1568 621h1v1h-1zM32 622h1v1h-1zM720 622h2v1h-2zM840 622h3v1h-3zM26 623h1v1h-1zM30 623h2v1h-2zM722 623h1v1h-1zM836 623h1v1h-1zM18 624h3v1h-3zM24 624h2v1h-2zM726 624h2v1h-2zM834 624h2v1h-2zM1572 624h1v1h-1zM6 625h3v1h-3zM12 625h3v1h-3zM728 625h1v1h-1zM828 625h3v1h-3zM1573 625h1v1h-1zM732 626h1v1h-1zM824 626h1v1h-1zM1574 626h1v1h-1zM733 627h2v1h-2zM822 627h2v1h-2zM816 628h3v1h-3zM738 629h3v1h-3zM812 629h1v1h-1zM1578 629h1v1h-1zM810 630h2v1h-2zM1579 630h1v1h-1zM744 631h3v1h-3zM804 631h3v1h-3zM1580 631h1v1h-1zM750 632h2v1h-2zM794 632h1v1h-1zM798 632h3v1h-3zM752 633h1v1h-1zM786 633h3v1h-3zM792 633h2v1h-2zM756 634h3v1h-3zM762 634h3v1h-3zM768 634h3v1h-3zM774 634h3v1h-3zM780 634h3v1h-3zM1584 634h2v1h-2zM1586 635h1v1h-1zM1590 638h1v1h-1zM1591 639h1v1h-1zM1592 640h1v1h-1zM1596 643h2v1h-2zM1598 644h1v1h-1zM1602 647h2v1h-2zM1604 648h1v1h-1zM1608 650h1v1h-1zM1609 651h1v1h-1zM1610 652h1v1h-1zM1614 654h1v1h-1zM1658 654h1v1h-1zM1662 654h1v1h-1zM1615 655h2v1h-2zM1652 655h1v1h-1zM1656 655h2v1h-2zM1650 656h2v1h-2zM1620 657h1v1h-1zM1644 657h3v1h-3zM1621 658h2v1h-2zM1640 658h1v1h-1zM1626 659h3v1h-3zM1632 659h3v1h-3zM1638 659h2v1h-2z" fill="#FF0000"/>
<line x1="7" y1="702.5" x2="1685" y2="702.5" stroke="#C0C0C0" stroke-width="1" stroke-dasharray="3 3"/>
<line x1="7" y1="742.5" x2="1685" y2="742.5" stroke="#C0C0C0" stroke-width="1" stroke-dasharray="3 3"/>
<path d="M1325 679h2v1h-2zM1322 680h3v1h-3zM1327 680h1v1h-1zM1320 681h2v1h-2zM1328 681h1v1h-1zM1314 682h6v1h-6zM1329 682h1v1h-1zM1348 682h3v1h-3zM1308 683h6v1h-6zM1330 683h2v1h-2zM1344 683h4v1h-4zM1351 683h1v1h-1zM1304 684h4v1h-4zM1332 684h1v1h-1zM1340 684h4v1h-4zM1352 684h1v1h-1zM1293 685h11v1h-11zM1333 685h1v1h-1zM1336 685h4v1h-4zM1353 685h1v1h-1zM1291 686h2v1h-2zM1334 686h2v1h-2zM1354 686h1v2h-1zM1204 687h3v1h-3zM1289 687h2v1h-2zM1200 688h4v1h-4zM1207 688h1v1h-1zM1287 688h2v1h-2zM1355 688h1v1h-1zM1196 689h4v1h-4zM1208 689h1v1h-1zM1282 689h5v1h-5zM1356 689h1v1h-1zM1170 690h6v1h-6zM1192 690h4v1h-4zM1209 690h1v1h-1zM1274 690h8v1h-8zM1357 690h1v1h-1zM1166 691h4v1h-4zM1176 691h4v1h-4zM1186 691h6v1h-6zM1210 691h2v1h-2zM1229 691h5v1h-5zM1266 691h8v1h-8zM1358 691h1v2h-1zM1165 692h1v1h-1zM1180 692h6v1h-6zM1212 692h1v1h-1zM1226 692h3v1h-3zM1234 692h5v1h-5zM1254 692h12v1h-12zM1164 693h1v2h-1zM1213 693h1v1h-1zM1224 693h2v1h-2zM1239 693h1v1h-1zM1253 693h1v1h-1zM1359 693h1v2h-1zM1214 694h10v1h-10zM1240 694h1v1h-1zM1252 694h1v1h-1zM1163 695h1v1h-1zM1241 695h1v1h-1zM1251 695h1v1h-1zM1360 695h1v2h-1zM1162 696h1v1h-1zM1242 696h1v1h-1zM1250 696h1v1h-1zM1161 697h1v1h-1zM1243 697h1v1h-1zM1249 697h1v1h-1zM1361 697h1v2h-1zM1160 698h1v2h-1zM1244 698h1v1h-1zM1248 698h1v1h-1zM366 699h1v1h-1zM1245 699h1v1h-1zM1247 699h1v1h-1zM1362 699h1v3h-1zM365 700h1v1h-1zM367 700h2v1h-2zM1146 700h8v1h-8zM1159 700h1v1h-1zM1246 700h1v1h-1zM364 701h1v1h-1zM369 701h1v1h-1zM1141 701h5v1h-5zM1154 701h5v1h-5zM363 702h1v1h-1zM370 702h2v1h-2zM389 702h5v1h-5zM1139 702h2v1h-2zM1363 702h1v2h-1zM362 703h1v1h-1zM372 703h2v1h-2zM387 703h2v1h-2zM394 703h5v1h-5zM1137 703h2v1h-2zM361 704h1v1h-1zM374 704h2v1h-2zM385 704h2v1h-2zM399 704h2v1h-2zM1082 704h6v1h-6zM1135 704h2v1h-2zM1364 704h1v2h-1zM182 705h1v1h-1zM360 705h1v1h-1zM376 705h4v1h-4zM383 705h2v1h-2zM401 705h2v1h-2zM1074 705h8v1h-8zM1088 705h4v1h-4zM1133 705h2v1h-2zM181 706h1v1h-1zM183 706h1v2h-1zM359 706h1v1h-1zM380 706h3v1h-3zM403 706h2v1h-2zM1070 706h4v1h-4zM1092 706h3v1h-3zM1131 706h2v1h-2zM1365 706h1v2h-1zM180 707h1v1h-1zM354 707h5v1h-5zM405 707h11v1h-11zM1069 707h1v1h-1zM1095 707h2v1h-2zM1129 707h2v1h-2zM178 708h2v1h-2zM184 708h1v2h-1zM350 708h4v1h-4zM416 708h4v1h-4zM590 708h2v1h-2zM604 708h3v1h-3zM1068 708h1v1h-1zM1097 708h1v1h-1zM1127 708h2v1h-2zM1366 708h1v1h-1zM1378 708h5v1h-5zM177 709h1v1h-1zM349 709h1v2h-1zM420 709h3v1h-3zM541 709h2v1h-2zM589 709h1v1h-1zM592 709h4v1h-4zM600 709h4v1h-4zM607 709h1v2h-1zM1036 709h3v1h-3zM1066 709h2v1h-2zM1098 709h2v1h-2zM1122 709h5v1h-5zM1366 709h12v1h-12zM1383 709h1v2h-1zM176 710h1v1h-1zM185 710h1v2h-1zM423 710h2v1h-2zM522 710h6v1h-6zM538 710h3v1h-3zM543 710h1v1h-1zM588 710h1v1h-1zM596 710h4v1h-4zM1032 710h4v1h-4zM1039 710h1v1h-1zM1065 710h1v1h-1zM1100 710h2v1h-2zM1114 710h8v1h-8zM141 711h3v1h-3zM175 711h1v1h-1zM348 711h1v2h-1zM425 711h2v1h-2zM517 711h5v1h-5zM528 711h4v1h-4zM536 711h2v1h-2zM544 711h2v1h-2zM586 711h2v1h-2zM608 711h1v1h-1zM845 711h2v1h-2zM1026 711h6v1h-6zM1040 711h1v1h-1zM1064 711h1v1h-1zM1102 711h12v1h-12zM1384 711h1v1h-1zM118 712h1v1h-1zM138 712h3v1h-3zM144 712h2v1h-2zM170 712h5v1h-5zM186 712h1v1h-1zM427 712h2v1h-2zM434 712h5v1h-5zM514 712h3v1h-3zM532 712h4v1h-4zM546 712h1v1h-1zM585 712h1v1h-1zM609 712h1v1h-1zM842 712h3v1h-3zM847 712h1v1h-1zM1002 712h6v1h-6zM1020 712h6v1h-6zM1041 712h1v1h-1zM1063 712h1v1h-1zM1385 712h1v1h-1zM1405 712h3v1h-3zM1662 712h1v1h-1zM116 713h2v1h-2zM119 713h2v1h-2zM136 713h2v1h-2zM146 713h3v1h-3zM154 713h16v1h-16zM187 713h1v2h-1zM347 713h1v1h-1zM429 713h5v1h-5zM439 713h1v1h-1zM512 713h2v1h-2zM547 713h1v1h-1zM584 713h1v1h-1zM610 713h1v2h-1zM840 713h2v1h-2zM848 713h2v1h-2zM876 713h11v1h-11zM998 713h4v1h-4zM1008 713h4v1h-4zM1016 713h4v1h-4zM1042 713h2v1h-2zM1058 713h5v1h-5zM1386 713h1v2h-1zM1403 713h2v1h-2zM1408 713h2v1h-2zM1660 713h2v1h-2zM114 714h2v1h-2zM121 714h1v1h-1zM133 714h3v1h-3zM149 714h5v1h-5zM346 714h1v2h-1zM440 714h1v2h-1zM506 714h6v1h-6zM548 714h2v1h-2zM583 714h1v1h-1zM838 714h2v1h-2zM850 714h1v1h-1zM872 714h4v1h-4zM887 714h2v1h-2zM996 714h2v1h-2zM1012 714h4v1h-4zM1044 714h1v1h-1zM1052 714h6v1h-6zM1401 714h2v1h-2zM1410 714h3v1h-3zM1646 714h2v1h-2zM1658 714h2v1h-2zM113 715h1v1h-1zM122 715h2v1h-2zM130 715h3v1h-3zM188 715h1v2h-1zM270 715h1v1h-1zM302 715h10v1h-10zM502 715h4v1h-4zM550 715h1v1h-1zM581 715h2v1h-2zM611 715h1v1h-1zM837 715h1v1h-1zM851 715h1v1h-1zM866 715h6v1h-6zM889 715h2v1h-2zM995 715h1v1h-1zM1045 715h1v1h-1zM1048 715h4v1h-4zM1387 715h1v1h-1zM1399 715h2v1h-2zM1413 715h2v1h-2zM1645 715h1v2h-1zM1648 715h2v1h-2zM1657 715h1v1h-1zM26 716h13v1h-13zM100 716h6v1h-6zM111 716h2v1h-2zM124 716h2v1h-2zM128 716h2v1h-2zM268 716h2v1h-2zM271 716h2v1h-2zM301 716h1v2h-1zM312 716h2v1h-2zM345 716h1v1h-1zM441 716h1v1h-1zM501 716h1v1h-1zM551 716h1v1h-1zM579 716h2v1h-2zM612 716h1v1h-1zM836 716h1v1h-1zM852 716h2v1h-2zM858 716h8v1h-8zM891 716h2v1h-2zM994 716h1v1h-1zM1046 716h2v1h-2zM1388 716h1v1h-1zM1397 716h2v1h-2zM1415 716h1v1h-1zM1477 716h3v1h-3zM1498 716h5v1h-5zM1650 716h3v1h-3zM1655 716h2v1h-2zM22 717h4v1h-4zM39 717h2v1h-2zM53 717h2v1h-2zM96 717h4v1h-4zM106 717h5v1h-5zM126 717h2v1h-2zM189 717h1v2h-1zM266 717h2v1h-2zM273 717h2v1h-2zM314 717h3v1h-3zM322 717h6v1h-6zM344 717h1v2h-1zM442 717h1v1h-1zM500 717h1v1h-1zM552 717h2v1h-2zM577 717h2v1h-2zM613 717h1v2h-1zM834 717h2v1h-2zM854 717h4v1h-4zM893 717h2v1h-2zM992 717h2v1h-2zM1389 717h1v2h-1zM1394 717h3v1h-3zM1416 717h2v1h-2zM1444 717h3v1h-3zM1462 717h2v1h-2zM1475 717h2v1h-2zM1480 717h4v1h-4zM1490 717h8v1h-8zM1503 717h1v1h-1zM1644 717h1v2h-1zM1653 717h2v1h-2zM21 718h1v1h-1zM41 718h2v1h-2zM50 718h3v1h-3zM55 718h1v1h-1zM90 718h6v1h-6zM265 718h1v1h-1zM275 718h2v1h-2zM300 718h1v2h-1zM317 718h5v1h-5zM328 718h2v1h-2zM443 718h1v1h-1zM498 718h2v1h-2zM554 718h1v1h-1zM575 718h2v1h-2zM820 718h4v1h-4zM833 718h1v1h-1zM895 718h2v1h-2zM991 718h1v1h-1zM1392 718h2v1h-2zM1418 718h1v1h-1zM1440 718h4v1h-4zM1447 718h1v1h-1zM1460 718h2v1h-2zM1464 718h2v1h-2zM1473 718h2v1h-2zM1484 718h6v1h-6zM1504 718h1v1h-1zM20 719h1v1h-1zM43 719h2v1h-2zM48 719h2v1h-2zM56 719h1v1h-1zM85 719h5v1h-5zM190 719h1v1h-1zM263 719h2v1h-2zM277 719h2v1h-2zM330 719h3v1h-3zM343 719h1v2h-1zM444 719h1v2h-1zM497 719h1v1h-1zM555 719h1v1h-1zM574 719h1v1h-1zM614 719h1v1h-1zM816 719h4v1h-4zM824 719h2v1h-2zM832 719h1v1h-1zM897 719h1v1h-1zM990 719h1v1h-1zM1390 719h2v1h-2zM1419 719h1v1h-1zM1436 719h4v1h-4zM1448 719h2v1h-2zM1459 719h1v1h-1zM1466 719h3v1h-3zM1471 719h2v1h-2zM1505 719h1v1h-1zM1643 719h1v2h-1zM18 720h2v1h-2zM45 720h3v1h-3zM57 720h1v1h-1zM82 720h3v1h-3zM191 720h2v1h-2zM205 720h11v1h-11zM258 720h5v1h-5zM279 720h1v1h-1zM299 720h1v1h-1zM333 720h5v1h-5zM485 720h3v1h-3zM496 720h1v1h-1zM556 720h2v1h-2zM572 720h2v1h-2zM615 720h2v1h-2zM652 720h3v1h-3zM789 720h5v1h-5zM802 720h14v1h-14zM826 720h3v1h-3zM831 720h1v1h-1zM898 720h2v1h-2zM989 720h1v1h-1zM1420 720h2v1h-2zM1432 720h4v1h-4zM1450 720h1v1h-1zM1458 720h1v1h-1zM1469 720h2v1h-2zM1506 720h2v1h-2zM1517 720h2v1h-2zM6 721h2v1h-2zM17 721h1v1h-1zM58 721h2v1h-2zM80 721h2v1h-2zM193 721h1v1h-1zM203 721h2v1h-2zM216 721h2v1h-2zM252 721h6v1h-6zM280 721h1v1h-1zM298 721h1v2h-1zM338 721h5v1h-5zM445 721h1v1h-1zM483 721h2v1h-2zM488 721h4v1h-4zM495 721h1v1h-1zM558 721h2v1h-2zM570 721h2v1h-2zM617 721h2v1h-2zM628 721h4v1h-4zM648 721h4v1h-4zM655 721h2v1h-2zM787 721h2v1h-2zM794 721h8v1h-8zM829 721h2v1h-2zM900 721h2v1h-2zM988 721h1v1h-1zM1422 721h10v1h-10zM1451 721h1v1h-1zM1456 721h2v1h-2zM1508 721h1v1h-1zM1514 721h3v1h-3zM1519 721h2v1h-2zM1642 721h1v1h-1zM8 722h2v1h-2zM16 722h1v1h-1zM60 722h1v1h-1zM74 722h6v1h-6zM194 722h2v1h-2zM201 722h2v1h-2zM218 722h3v1h-3zM248 722h4v1h-4zM281 722h1v1h-1zM446 722h2v1h-2zM481 722h2v1h-2zM492 722h3v1h-3zM560 722h2v1h-2zM569 722h1v1h-1zM619 722h2v1h-2zM624 722h4v1h-4zM632 722h2v1h-2zM644 722h4v1h-4zM657 722h2v1h-2zM774 722h2v1h-2zM785 722h2v1h-2zM902 722h4v1h-4zM914 722h5v1h-5zM934 722h2v1h-2zM986 722h2v1h-2zM1452 722h2v1h-2zM1455 722h1v1h-1zM1509 722h1v1h-1zM1512 722h2v1h-2zM1521 722h2v1h-2zM1641 722h1v2h-1zM10 723h3v1h-3zM15 723h1v1h-1zM61 723h1v1h-1zM66 723h8v1h-8zM196 723h2v1h-2zM199 723h2v1h-2zM221 723h2v1h-2zM245 723h3v1h-3zM282 723h2v1h-2zM297 723h1v1h-1zM448 723h4v1h-4zM479 723h2v1h-2zM562 723h3v1h-3zM567 723h2v1h-2zM621 723h3v1h-3zM634 723h3v1h-3zM640 723h4v1h-4zM659 723h2v1h-2zM773 723h1v1h-1zM776 723h4v1h-4zM783 723h2v1h-2zM906 723h8v1h-8zM919 723h1v1h-1zM933 723h1v1h-1zM936 723h4v1h-4zM946 723h5v1h-5zM965 723h5v1h-5zM985 723h1v1h-1zM1454 723h1v1h-1zM1510 723h2v1h-2zM1523 723h2v1h-2zM13 724h2v1h-2zM62 724h4v1h-4zM198 724h1v1h-1zM223 724h1v1h-1zM242 724h3v1h-3zM284 724h1v1h-1zM296 724h1v2h-1zM452 724h11v1h-11zM478 724h1v1h-1zM565 724h2v1h-2zM637 724h3v1h-3zM661 724h2v1h-2zM772 724h1v1h-1zM780 724h3v1h-3zM920 724h1v1h-1zM932 724h1v1h-1zM940 724h6v1h-6zM951 724h2v1h-2zM963 724h2v1h-2zM970 724h6v1h-6zM984 724h1v1h-1zM1525 724h2v1h-2zM1640 724h1v2h-1zM224 725h2v1h-2zM240 725h2v1h-2zM285 725h1v1h-1zM463 725h2v1h-2zM476 725h2v1h-2zM663 725h2v1h-2zM771 725h1v1h-1zM921 725h1v1h-1zM930 725h2v1h-2zM953 725h2v1h-2zM961 725h2v1h-2zM976 725h4v1h-4zM983 725h1v1h-1zM1527 725h1v1h-1zM226 726h1v1h-1zM237 726h3v1h-3zM286 726h2v1h-2zM295 726h1v2h-1zM465 726h1v1h-1zM474 726h2v1h-2zM665 726h2v1h-2zM770 726h1v2h-1zM922 726h2v1h-2zM929 726h1v1h-1zM955 726h2v1h-2zM959 726h2v1h-2zM980 726h3v1h-3zM1528 726h2v1h-2zM1639 726h1v2h-1zM227 727h1v1h-1zM234 727h3v1h-3zM288 727h4v1h-4zM466 727h2v1h-2zM473 727h1v1h-1zM667 727h2v1h-2zM924 727h1v1h-1zM928 727h1v1h-1zM957 727h2v1h-2zM1530 727h1v1h-1zM228 728h2v1h-2zM232 728h2v1h-2zM292 728h3v1h-3zM468 728h2v1h-2zM471 728h2v1h-2zM669 728h3v1h-3zM769 728h1v1h-1zM925 728h1v1h-1zM927 728h1v1h-1zM1531 728h1v1h-1zM1638 728h1v1h-1zM230 729h2v1h-2zM470 729h1v1h-1zM672 729h4v1h-4zM768 729h1v1h-1zM926 729h1v1h-1zM1532 729h2v1h-2zM1538 729h5v1h-5zM1636 729h2v1h-2zM676 730h3v1h-3zM767 730h1v1h-1zM1534 730h4v1h-4zM1543 730h1v2h-1zM1634 730h2v1h-2zM679 731h1v2h-1zM718 731h1v1h-1zM765 731h2v1h-2zM1590 731h1v1h-1zM1633 731h1v1h-1zM716 732h2v1h-2zM719 732h2v1h-2zM763 732h2v1h-2zM1544 732h1v2h-1zM1588 732h2v1h-2zM1591 732h2v1h-2zM1621 732h5v1h-5zM1631 732h2v1h-2zM680 733h1v1h-1zM714 733h2v1h-2zM721 733h1v1h-1zM740 733h6v1h-6zM761 733h2v1h-2zM1586 733h2v1h-2zM1593 733h2v1h-2zM1619 733h2v1h-2zM1626 733h5v1h-5zM681 734h1v1h-1zM713 734h1v1h-1zM722 734h2v1h-2zM736 734h4v1h-4zM746 734h8v1h-8zM759 734h2v1h-2zM1545 734h1v2h-1zM1585 734h1v1h-1zM1595 734h2v1h-2zM1602 734h6v1h-6zM1617 734h2v1h-2zM682 735h1v2h-1zM711 735h2v1h-2zM724 735h2v1h-2zM730 735h6v1h-6zM754 735h5v1h-5zM1574 735h4v1h-4zM1583 735h2v1h-2zM1597 735h5v1h-5zM1608 735h4v1h-4zM1615 735h2v1h-2zM709 736h2v1h-2zM726 736h4v1h-4zM1546 736h1v2h-1zM1573 736h1v1h-1zM1578 736h5v1h-5zM1612 736h3v1h-3zM683 737h1v1h-1zM707 737h2v1h-2zM1572 737h1v2h-1zM684 738h1v1h-1zM705 738h2v1h-2zM1547 738h1v2h-1zM685 739h1v2h-1zM703 739h2v1h-2zM1571 739h1v1h-1zM700 740h3v1h-3zM1548 740h1v2h-1zM1570 740h1v1h-1zM686 741h4v1h-4zM696 741h4v1h-4zM1569 741h1v1h-1zM690 742h6v1h-6zM1549 742h1v2h-1zM1568 742h1v2h-1zM1550 744h1v1h-1zM1567 744h1v1h-1zM1550 745h17v1h-17z" fill="#1E90FF"/>
<path d="M9 43h7l-3.5 4z" fill="#000"/>
<text x="20.5" y="48" font-size="10" fill="#000" stroke="#000" stroke-width="0.2" textLength="57.5" lengthAdjust="spacingAndGlyphs">XAUUSD-,H4</text>
<text x="84.3" y="48" font-size="10" fill="#000" stroke="#000" stroke-width="0.2" textLength="32.8" lengthAdjust="spacingAndGlyphs">1626.48</text>
<text x="120.3" y="48" font-size="10" fill="#000" stroke="#000" stroke-width="0.2" textLength="32.8" lengthAdjust="spacingAndGlyphs">1652.14</text>
<text x="156.3" y="48" font-size="10" fill="#000" stroke="#000" stroke-width="0.2" textLength="32.8" lengthAdjust="spacingAndGlyphs">1626.47</text>
<text x="192.2" y="48" font-size="10" fill="#000" stroke="#000" stroke-width="0.2" textLength="32.8" lengthAdjust="spacingAndGlyphs">1646.12</text>
<text x="10.3" y="543" font-size="10" fill="#000" stroke="#000" stroke-width="0.2" textLength="123.5" lengthAdjust="spacingAndGlyphs">MACD(12,26,9) -2.388 -9.925</text>
<text x="10.2" y="684" font-size="10" fill="#000" stroke="#000" stroke-width="0.2" textLength="67.8" lengthAdjust="spacingAndGlyphs">RSI(14) 61.5333</text>
<rect x="1687" y="63" width="2" height="1" fill="#000"/>
<text x="1692.5" y="67" font-size="10" fill="#000" stroke="#000" stroke-width="0.2" textLength="32.8" lengthAdjust="spacingAndGlyphs">1688.40</text>
<rect x="1687" y="96" width="2" height="1" fill="#000"/>
<text x="1692.5" y="100" font-size="10" fill="#000" stroke="#000" stroke-width="0.2" textLength="32.8" lengthAdjust="spacingAndGlyphs">1678.20</text>
<rect x="1687" y="129" width="2" height="1" fill="#000"/>
<text x="1692.5" y="133" font-size="10" fill="#000" stroke="#000" stroke-width="0.2" textLength="32.8" lengthAdjust="spacingAndGlyphs">1667.70</text>
<rect x="1687" y="162" width="2" height="1" fill="#000"/>
<text x="1692.5" y="166" font-size="10" fill="#000" stroke="#000" stroke-width="0.2" textLength="32.8" lengthAdjust="spacingAndGlyphs">1657.50</text>
<rect x="1687" y="195" width="2" height="1" fill="#000"/>
<text x="1692.5" y="199" font-size="10" fill="#000" stroke="#000" stroke-width="0.2" textLength="32.8" lengthAdjust="spacingAndGlyphs">1647.00</text>
<rect x="1687" y="228" width="2" height="1" fill="#000"/>
<text x="1692.5" y="232" font-size="10" fill="#000" stroke="#000" stroke-width="0.2" textLength="32.8" lengthAdjust="spacingAndGlyphs">1636.80</text>
<rect x="1687" y="261" width="2" height="1" fill="#000"/>
<text x="1692.5" y="265" font-size="10" fill="#000" stroke="#000" stroke-width="0.2" textLength="32.8" lengthAdjust="spacingAndGlyphs">1626.30</text>
<rect x="1687" y="294" width="2" height="1" fill="#000"/>
<text x="1692.5" y="298" font-size="10" fill="#000" stroke="#000" stroke-width="0.2" textLength="32.8" lengthAdjust="spacingAndGlyphs">1615.80</text>
<rect x="1687" y="327" width="2" height="1" fill="#000"/>
<text x="1692.5" y="331" font-size="10" fill="#000" stroke="#000" stroke-width="0.2" textLength="32.8" lengthAdjust="spacingAndGlyphs">1605.60</text>
<rect x="1687" y="360" width="2" height="1" fill="#000"/>
<text x="1692.5" y="364" font-size="10" fill="#000" stroke="#000" stroke-width="0.2" textLength="32.8" lengthAdjust="spacingAndGlyphs">1595.10</text>
<rect x="1687" y="393" width="2" height="1" fill="#000"/>
<text x="1692.5" y="397" font-size="10" fill="#000" stroke="#000" stroke-width="0.2" textLength="32.8" lengthAdjust="spacingAndGlyphs">1584.90</text>
<rect x="1687" y="426" width="2" height="1" fill="#000"/>
<text x="1692.5" y="430" font-size="10" fill="#000" stroke="#000" stroke-width="0.2" textLength="32.8" lengthAdjust="spacingAndGlyphs">1574.40</text>
<rect x="1687" y="459" width="2" height="1" fill="#000"/>
<text x="1692.5" y="463" font-size="10" fill="#000" stroke="#000" stroke-width="0.2" textLength="32.8" lengthAdjust="spacingAndGlyphs">1564.20</text>
<rect x="1687" y="492" width="2" height="1" fill="#000"/>
<text x="1692.5" y="496" font-size="10" fill="#000" stroke="#000" stroke-width="0.2" textLength="32.8" lengthAdjust="spacingAndGlyphs">1553.70</text>
<rect x="1687" y="525" width="2" height="1" fill="#000"/>
<text x="1692.5" y="529" font-size="10" fill="#000" stroke="#000" stroke-width="0.2" textLength="32.8" lengthAdjust="spacingAndGlyphs">1543.50</text>
<rect x="1688" y="84" width="41" height="11" fill="#FF0000"/>
<text x="1692.5" y="93" font-size="10" fill="#fff" stroke="#fff" stroke-width="0.2" textLength="32.5" lengthAdjust="spacingAndGlyphs">1680.00</text>
<rect x="1688" y="180" width="41" height="11" fill="#FF0000"/>
<text x="1692.5" y="189" font-size="10" fill="#fff" stroke="#fff" stroke-width="0.2" textLength="32.5" lengthAdjust="spacingAndGlyphs">1650.00</text>
<rect x="1688" y="193" width="41" height="11" fill="#000"/>
<text x="1692.5" y="202" font-size="10" fill="#fff" stroke="#fff" stroke-width="0.2" textLength="32.5" lengthAdjust="spacingAndGlyphs">1646.12</text>
<rect x="1688" y="307" width="41" height="11" fill="#00FF7F"/>
<text x="1692.5" y="316" font-size="10" fill="#fff" stroke="#fff" stroke-width="0.2" textLength="32.5" lengthAdjust="spacingAndGlyphs">1610.00</text>
<rect x="1688" y="371" width="41" height="11" fill="#4169E1"/>
<text x="1692.5" y="380" font-size="10" fill="#fff" stroke="#fff" stroke-width="0.2" textLength="32.5" lengthAdjust="spacingAndGlyphs">1590.00</text>
<rect x="1688" y="418" width="41" height="11" fill="#4169E1"/>
<text x="1692.5" y="427" font-size="10" fill="#fff" stroke="#fff" stroke-width="0.2" textLength="32.5" lengthAdjust="spacingAndGlyphs">1575.00</text>
<rect x="1688" y="457" width="41" height="11" fill="#4169E1"/>
<text x="1692.5" y="466" font-size="10" fill="#fff" stroke="#fff" stroke-width="0.2" textLength="32.5" lengthAdjust="spacingAndGlyphs">1563.00</text>
<rect x="1687" y="532" width="1" height="1" fill="#000"/>
<text x="1690" y="541" font-size="10" fill="#000" stroke="#000" stroke-width="0.2" textLength="28.3" lengthAdjust="spacingAndGlyphs">22.575</text>
<rect x="1687" y="615" width="2" height="1" fill="#000"/>
<text x="1690" y="619" font-size="10" fill="#000" stroke="#000" stroke-width="0.2" textLength="18" lengthAdjust="spacingAndGlyphs">0.00</text>
<rect x="1687" y="668" width="1" height="1" fill="#000"/>
<text x="1690" y="666" font-size="10" fill="#000" stroke="#000" stroke-width="0.2" textLength="31" lengthAdjust="spacingAndGlyphs">-14.484</text>
<rect x="1687" y="673" width="1" height="1" fill="#000"/>
<text x="1690.5" y="682" font-size="10" fill="#000" stroke="#000" stroke-width="0.2" textLength="14.8" lengthAdjust="spacingAndGlyphs">100</text>
<text x="1689.3" y="706" font-size="10" fill="#000" stroke="#000" stroke-width="0.2" textLength="10" lengthAdjust="spacingAndGlyphs">70</text>
<text x="1689.3" y="746" font-size="10" fill="#000" stroke="#000" stroke-width="0.2" textLength="10" lengthAdjust="spacingAndGlyphs">30</text>
<rect x="1687" y="771" width="1" height="1" fill="#000"/>
<text x="1690" y="769" font-size="10" fill="#000" stroke="#000" stroke-width="0.2" textLength="5.2" lengthAdjust="spacingAndGlyphs">0</text>
<rect x="6" y="773" width="1" height="3" fill="#000"/>
<text x="5.3" y="785" font-size="10" fill="#000" stroke="#000" stroke-width="0.2" textLength="49" lengthAdjust="spacingAndGlyphs">15 Jan 2020</text>
<rect x="70" y="773" width="1" height="3" fill="#000"/>
<text x="69.3" y="785" font-size="10" fill="#000" stroke="#000" stroke-width="0.2" textLength="53" lengthAdjust="spacingAndGlyphs">16 Jan 16:00</text>
<rect x="134" y="773" width="1" height="3" fill="#000"/>
<text x="133.3" y="785" font-size="10" fill="#000" stroke="#000" stroke-width="0.2" textLength="53" lengthAdjust="spacingAndGlyphs">20 Jan 00:00</text>
<rect x="198" y="773" width="1" height="3" fill="#000"/>
<text x="197.3" y="785" font-size="10" fill="#000" stroke="#000" stroke-width="0.2" textLength="53" lengthAdjust="spacingAndGlyphs">21 Jan 08:00</text>
<rect x="262" y="773" width="1" height="3" fill="#000"/>
<text x="261.3" y="785" font-size="10" fill="#000" stroke="#000" stroke-width="0.2" textLength="53" lengthAdjust="spacingAndGlyphs">22 Jan 16:00</text>
<rect x="326" y="773" width="1" height="3" fill="#000"/>
<text x="325.3" y="785" font-size="10" fill="#000" stroke="#000" stroke-width="0.2" textLength="53" lengthAdjust="spacingAndGlyphs">24 Jan 00:00</text>
<rect x="390" y="773" width="1" height="3" fill="#000"/>
<text x="389.3" y="785" font-size="10" fill="#000" stroke="#000" stroke-width="0.2" textLength="53" lengthAdjust="spacingAndGlyphs">27 Jan 08:00</text>
<rect x="454" y="773" width="1" height="3" fill="#000"/>
<text x="453.3" y="785" font-size="10" fill="#000" stroke="#000" stroke-width="0.2" textLength="53" lengthAdjust="spacingAndGlyphs">28 Jan 16:00</text>
<rect x="518" y="773" width="1" height="3" fill="#000"/>
<text x="517.3" y="785" font-size="10" fill="#000" stroke="#000" stroke-width="0.2" textLength="53" lengthAdjust="spacingAndGlyphs">30 Jan 00:00</text>
<rect x="582" y="773" width="1" height="3" fill="#000"/>
<text x="581.3" y="785" font-size="10" fill="#000" stroke="#000" stroke-width="0.2" textLength="53" lengthAdjust="spacingAndGlyphs">31 Jan 08:00</text>
<rect x="646" y="773" width="1" height="3" fill="#000"/>
<text x="645.3" y="785" font-size="10" fill="#000" stroke="#000" stroke-width="0.2" textLength="49.5" lengthAdjust="spacingAndGlyphs">3 Feb 16:00</text>
<rect x="710" y="773" width="1" height="3" fill="#000"/>
<text x="709.3" y="785" font-size="10" fill="#000" stroke="#000" stroke-width="0.2" textLength="49.5" lengthAdjust="spacingAndGlyphs">5 Feb 00:00</text>
<rect x="774" y="773" width="1" height="3" fill="#000"/>
<text x="773.3" y="785" font-size="10" fill="#000" stroke="#000" stroke-width="0.2" textLength="49.5" lengthAdjust="spacingAndGlyphs">6 Feb 08:00</text>
<rect x="838" y="773" width="1" height="3" fill="#000"/>
<text x="837.3" y="785" font-size="10" fill="#000" stroke="#000" stroke-width="0.2" textLength="49.5" lengthAdjust="spacingAndGlyphs">7 Feb 16:00</text>
<rect x="902" y="773" width="1" height="3" fill="#000"/>
<text x="901.3" y="785" font-size="10" fill="#000" stroke="#000" stroke-width="0.2" textLength="54.5" lengthAdjust="spacingAndGlyphs">11 Feb 00:00</text>
<rect x="966" y="773" width="1" height="3" fill="#000"/>
<text x="965.3" y="785" font-size="10" fill="#000" stroke="#000" stroke-width="0.2" textLength="54.5" lengthAdjust="spacingAndGlyphs">12 Feb 08:00</text>
<rect x="1030" y="773" width="1" height="3" fill="#000"/>
<text x="1029.3" y="785" font-size="10" fill="#000" stroke="#000" stroke-width="0.2" textLength="54.5" lengthAdjust="spacingAndGlyphs">13 Feb 16:00</text>
<rect x="1094" y="773" width="1" height="3" fill="#000"/>
<text x="1093.3" y="785" font-size="10" fill="#000" stroke="#000" stroke-width="0.2" textLength="54.5" lengthAdjust="spacingAndGlyphs">17 Feb 00:00</text>
<rect x="1158" y="773" width="1" height="3" fill="#000"/>
<text x="1157.3" y="785" font-size="10" fill="#000" stroke="#000" stroke-width="0.2" textLength="54.5" lengthAdjust="spacingAndGlyphs">18 Feb 08:00</text>
<rect x="1222" y="773" width="1" height="3" fill="#000"/>
<text x="1221.3" y="785" font-size="10" fill="#000" stroke="#000" stroke-width="0.2" textLength="54.5" lengthAdjust="spacingAndGlyphs">19 Feb 16:00</text>
<rect x="1286" y="773" width="1" height="3" fill="#000"/>
<text x="1285.3" y="785" font-size="10" fill="#000" stroke="#000" stroke-width="0.2" textLength="54.5" lengthAdjust="spacingAndGlyphs">21 Feb 00:00</text>
<rect x="1350" y="773" width="1" height="3" fill="#000"/>
<text x="1349.3" y="785" font-size="10" fill="#000" stroke="#000" stroke-width="0.2" textLength="54.5" lengthAdjust="spacingAndGlyphs">24 Feb 08:00</text>
<rect x="1414" y="773" width="1" height="3" fill="#000"/>
<text x="1413.3" y="785" font-size="10" fill="#000" stroke="#000" stroke-width="0.2" textLength="54.5" lengthAdjust="spacingAndGlyphs">25 Feb 16:00</text>
<rect x="1478" y="773" width="1" height="3" fill="#000"/>
<text x="1477.3" y="785" font-size="10" fill="#000" stroke="#000" stroke-width="0.2" textLength="54.5" lengthAdjust="spacingAndGlyphs">27 Feb 00:00</text>
<rect x="1542" y="773" width="1" height="3" fill="#000"/>
<text x="1541.3" y="785" font-size="10" fill="#000" stroke="#000" stroke-width="0.2" textLength="54.5" lengthAdjust="spacingAndGlyphs">28 Feb 08:00</text>
<rect x="1606" y="773" width="1" height="3" fill="#000"/>
<text x="1605.3" y="785" font-size="10" fill="#000" stroke="#000" stroke-width="0.2" textLength="49.5" lengthAdjust="spacingAndGlyphs">2 Mar 16:00</text>
<text x="668" y="270" font-size="32.6" fill="#FF0000" font-family="'Liberation Sans','Noto Sans CJK SC',sans-serif">多空转折点</text>
<text x="829" y="268.9" font-size="35" fill="#FF0000" textLength="76" lengthAdjust="spacingAndGlyphs" font-family="'Liberation Sans','Noto Sans CJK SC',sans-serif">1610</text>
</svg>
</body>
</html>
